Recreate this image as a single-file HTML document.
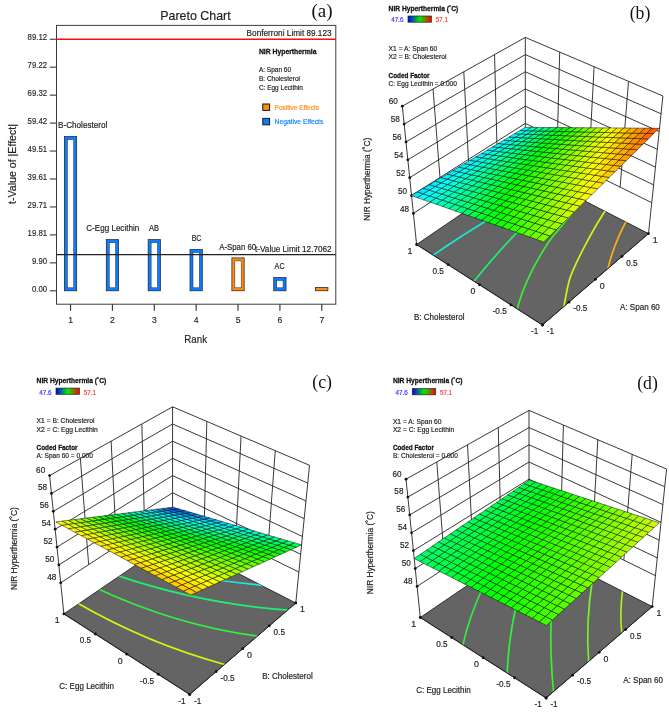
<!DOCTYPE html>
<html><head><meta charset="utf-8"><title>Figure</title>
<style>html,body{margin:0;padding:0;background:#fff;}body{width:669px;height:718px;overflow:hidden;font-family:"Liberation Sans",sans-serif;}svg{display:block;will-change:transform;}</style>
</head><body>
<svg width="669" height="718" viewBox="0 0 669 718" font-family="Liberation Sans, sans-serif">
<rect width="669" height="718" fill="#fff"/>
<rect x="56.5" y="25.4" width="279.3" height="278.8" fill="#fff" stroke="#3c3c3c" stroke-width="1.0"/>
<text x="195.50" y="19.70" font-size="13.5" text-anchor="middle" fill="#222" textLength="70.40" lengthAdjust="spacingAndGlyphs" stroke="#222" stroke-width="0.18" >Pareto Chart</text>
<text x="322.00" y="17.00" font-size="19" text-anchor="middle" fill="#111" font-family="Liberation Serif" >(a)</text>
<line x1="49.80" y1="290.80" x2="56.50" y2="290.80" stroke="#3c3c3c" stroke-width="1.1" />
<text x="47.10" y="291.50" font-size="8.6" text-anchor="end" fill="#2a2a2a" textLength="15.15" lengthAdjust="spacingAndGlyphs" stroke="#2a2a2a" stroke-width="0.18" >0.00</text>
<line x1="49.80" y1="262.85" x2="56.50" y2="262.85" stroke="#3c3c3c" stroke-width="1.1" />
<text x="47.10" y="263.55" font-size="8.6" text-anchor="end" fill="#2a2a2a" textLength="15.15" lengthAdjust="spacingAndGlyphs" stroke="#2a2a2a" stroke-width="0.18" >9.90</text>
<line x1="49.80" y1="234.90" x2="56.50" y2="234.90" stroke="#3c3c3c" stroke-width="1.1" />
<text x="47.10" y="235.60" font-size="8.6" text-anchor="end" fill="#2a2a2a" textLength="19.48" lengthAdjust="spacingAndGlyphs" stroke="#2a2a2a" stroke-width="0.18" >19.81</text>
<line x1="49.80" y1="206.95" x2="56.50" y2="206.95" stroke="#3c3c3c" stroke-width="1.1" />
<text x="47.10" y="207.65" font-size="8.6" text-anchor="end" fill="#2a2a2a" textLength="19.48" lengthAdjust="spacingAndGlyphs" stroke="#2a2a2a" stroke-width="0.18" >29.71</text>
<line x1="49.80" y1="179.00" x2="56.50" y2="179.00" stroke="#3c3c3c" stroke-width="1.1" />
<text x="47.10" y="179.70" font-size="8.6" text-anchor="end" fill="#2a2a2a" textLength="19.48" lengthAdjust="spacingAndGlyphs" stroke="#2a2a2a" stroke-width="0.18" >39.61</text>
<line x1="49.80" y1="151.05" x2="56.50" y2="151.05" stroke="#3c3c3c" stroke-width="1.1" />
<text x="47.10" y="151.75" font-size="8.6" text-anchor="end" fill="#2a2a2a" textLength="19.48" lengthAdjust="spacingAndGlyphs" stroke="#2a2a2a" stroke-width="0.18" >49.51</text>
<line x1="49.80" y1="123.10" x2="56.50" y2="123.10" stroke="#3c3c3c" stroke-width="1.1" />
<text x="47.10" y="123.80" font-size="8.6" text-anchor="end" fill="#2a2a2a" textLength="19.48" lengthAdjust="spacingAndGlyphs" stroke="#2a2a2a" stroke-width="0.18" >59.42</text>
<line x1="49.80" y1="95.15" x2="56.50" y2="95.15" stroke="#3c3c3c" stroke-width="1.1" />
<text x="47.10" y="95.85" font-size="8.6" text-anchor="end" fill="#2a2a2a" textLength="19.48" lengthAdjust="spacingAndGlyphs" stroke="#2a2a2a" stroke-width="0.18" >69.32</text>
<line x1="49.80" y1="67.20" x2="56.50" y2="67.20" stroke="#3c3c3c" stroke-width="1.1" />
<text x="47.10" y="67.90" font-size="8.6" text-anchor="end" fill="#2a2a2a" textLength="19.48" lengthAdjust="spacingAndGlyphs" stroke="#2a2a2a" stroke-width="0.18" >79.22</text>
<line x1="49.80" y1="39.25" x2="56.50" y2="39.25" stroke="#3c3c3c" stroke-width="1.1" />
<text x="47.10" y="39.95" font-size="8.6" text-anchor="end" fill="#2a2a2a" textLength="19.48" lengthAdjust="spacingAndGlyphs" stroke="#2a2a2a" stroke-width="0.18" >89.12</text>
<line x1="70.55" y1="304.20" x2="70.55" y2="310.80" stroke="#3c3c3c" stroke-width="1.2" />
<text x="70.55" y="322.70" font-size="8.6" text-anchor="middle" fill="#2a2a2a" stroke="#2a2a2a" stroke-width="0.18" >1</text>
<line x1="112.42" y1="304.20" x2="112.42" y2="310.80" stroke="#3c3c3c" stroke-width="1.2" />
<text x="112.42" y="322.70" font-size="8.6" text-anchor="middle" fill="#2a2a2a" stroke="#2a2a2a" stroke-width="0.18" >2</text>
<line x1="154.29" y1="304.20" x2="154.29" y2="310.80" stroke="#3c3c3c" stroke-width="1.2" />
<text x="154.29" y="322.70" font-size="8.6" text-anchor="middle" fill="#2a2a2a" stroke="#2a2a2a" stroke-width="0.18" >3</text>
<line x1="196.16" y1="304.20" x2="196.16" y2="310.80" stroke="#3c3c3c" stroke-width="1.2" />
<text x="196.16" y="322.70" font-size="8.6" text-anchor="middle" fill="#2a2a2a" stroke="#2a2a2a" stroke-width="0.18" >4</text>
<line x1="238.03" y1="304.20" x2="238.03" y2="310.80" stroke="#3c3c3c" stroke-width="1.2" />
<text x="238.03" y="322.70" font-size="8.6" text-anchor="middle" fill="#2a2a2a" stroke="#2a2a2a" stroke-width="0.18" >5</text>
<line x1="279.90" y1="304.20" x2="279.90" y2="310.80" stroke="#3c3c3c" stroke-width="1.2" />
<text x="279.90" y="322.70" font-size="8.6" text-anchor="middle" fill="#2a2a2a" stroke="#2a2a2a" stroke-width="0.18" >6</text>
<line x1="321.77" y1="304.20" x2="321.77" y2="310.80" stroke="#3c3c3c" stroke-width="1.2" />
<text x="321.77" y="322.70" font-size="8.6" text-anchor="middle" fill="#2a2a2a" stroke="#2a2a2a" stroke-width="0.18" >7</text>
<text x="195.70" y="343.30" font-size="11.4" text-anchor="middle" fill="#222" textLength="22.80" lengthAdjust="spacingAndGlyphs" stroke="#222" stroke-width="0.18" >Rank</text>
<text x="16.00" y="164.00" font-size="11.2" text-anchor="middle" fill="#222" textLength="80.00" lengthAdjust="spacingAndGlyphs" transform="rotate(-90 16.00 164.00)" stroke="#222" stroke-width="0.18" >t-Value of |Effect|</text>
<rect x="64.40" y="136.50" width="12.3" height="154.30" fill="#0a7cff" stroke="#1c1c24" stroke-width="0.7"/>
<rect x="67.40" y="139.50" width="6.30" height="148.30" fill="#fff" stroke="#1c1c24" stroke-width="0.45"/>
<rect x="106.27" y="239.60" width="12.3" height="51.20" fill="#0a7cff" stroke="#1c1c24" stroke-width="0.7"/>
<rect x="109.27" y="242.60" width="6.30" height="45.20" fill="#fff" stroke="#1c1c24" stroke-width="0.45"/>
<rect x="148.14" y="239.60" width="12.3" height="51.20" fill="#0a7cff" stroke="#1c1c24" stroke-width="0.7"/>
<rect x="151.14" y="242.60" width="6.30" height="45.20" fill="#fff" stroke="#1c1c24" stroke-width="0.45"/>
<rect x="190.01" y="249.50" width="12.3" height="41.30" fill="#0a7cff" stroke="#1c1c24" stroke-width="0.7"/>
<rect x="193.01" y="252.50" width="6.30" height="35.30" fill="#fff" stroke="#1c1c24" stroke-width="0.45"/>
<rect x="231.88" y="257.90" width="12.3" height="32.90" fill="#ff8a10" stroke="#1c1c24" stroke-width="0.7"/>
<rect x="234.88" y="260.90" width="6.30" height="26.90" fill="#fff" stroke="#1c1c24" stroke-width="0.45"/>
<rect x="273.75" y="277.50" width="12.3" height="13.30" fill="#0a7cff" stroke="#1c1c24" stroke-width="0.7"/>
<rect x="276.75" y="280.50" width="6.30" height="7.30" fill="#fff" stroke="#1c1c24" stroke-width="0.45"/>
<rect x="315.62" y="287.40" width="12.3" height="3.40" fill="#ff8a10" stroke="#1c1c24" stroke-width="0.7"/>
<line x1="56.50" y1="39.20" x2="335.80" y2="39.20" stroke="#ff1010" stroke-width="1.4" />
<line x1="56.50" y1="254.70" x2="335.80" y2="254.70" stroke="#222" stroke-width="1.2" />
<text x="331.60" y="36.30" font-size="9" text-anchor="end" fill="#222" textLength="85.00" lengthAdjust="spacingAndGlyphs" stroke="#222" stroke-width="0.18" >Bonferroni Limit 89.123</text>
<text x="331.60" y="251.50" font-size="9" text-anchor="end" fill="#222" textLength="76.60" lengthAdjust="spacingAndGlyphs" stroke="#222" stroke-width="0.18" >t-Value Limit 12.7062</text>
<text x="58.10" y="128.30" font-size="8.6" text-anchor="start" fill="#222" textLength="49.20" lengthAdjust="spacingAndGlyphs" stroke="#222" stroke-width="0.18" >B-Cholesterol</text>
<text x="86.30" y="231.40" font-size="8.6" text-anchor="start" fill="#222" textLength="52.90" lengthAdjust="spacingAndGlyphs" stroke="#222" stroke-width="0.18" >C-Egg Lecithin</text>
<text x="154.10" y="231.40" font-size="8.6" text-anchor="middle" fill="#222" textLength="10.00" lengthAdjust="spacingAndGlyphs" stroke="#222" stroke-width="0.18" >AB</text>
<text x="196.50" y="240.70" font-size="8.6" text-anchor="middle" fill="#222" textLength="9.70" lengthAdjust="spacingAndGlyphs" stroke="#222" stroke-width="0.18" >BC</text>
<text x="219.20" y="249.50" font-size="8.6" text-anchor="start" fill="#222" textLength="37.00" lengthAdjust="spacingAndGlyphs" stroke="#222" stroke-width="0.18" >A-Span 60</text>
<text x="279.60" y="268.70" font-size="8.6" text-anchor="middle" fill="#222" textLength="10.00" lengthAdjust="spacingAndGlyphs" stroke="#222" stroke-width="0.18" >AC</text>
<text x="258.90" y="53.80" font-size="7.5" text-anchor="start" fill="#111" font-weight="bold" textLength="57.60" lengthAdjust="spacingAndGlyphs" stroke="#111" stroke-width="0.28" >NIR Hyperthermia</text>
<text x="258.90" y="72.20" font-size="7.2" text-anchor="start" fill="#202020" textLength="32.20" lengthAdjust="spacingAndGlyphs" stroke="#202020" stroke-width="0.18" >A: Span 60</text>
<text x="258.90" y="81.10" font-size="7.2" text-anchor="start" fill="#202020" textLength="41.10" lengthAdjust="spacingAndGlyphs" stroke="#202020" stroke-width="0.18" >B: Cholesterol</text>
<text x="258.90" y="89.80" font-size="7.2" text-anchor="start" fill="#202020" textLength="44.00" lengthAdjust="spacingAndGlyphs" stroke="#202020" stroke-width="0.18" >C: Egg Lecithin</text>
<rect x="262.8" y="104" width="6.8" height="6.4" fill="#ff8a10" stroke="#151515" stroke-width="1"/>
<rect x="262.8" y="118.4" width="6.8" height="6.4" fill="#0a7cff" stroke="#151515" stroke-width="1"/>
<text x="274.60" y="109.80" font-size="7.4" text-anchor="start" fill="#ff8a10" textLength="44.50" lengthAdjust="spacingAndGlyphs" stroke="#ff8a10" stroke-width="0.18" >Positive Effects</text>
<text x="274.60" y="124.20" font-size="7.4" text-anchor="start" fill="#0a84ff" textLength="48.70" lengthAdjust="spacingAndGlyphs" stroke="#0a84ff" stroke-width="0.18" >Negative Effects</text>
<g>
<polygon points="416.60,244.50 542.40,325.00 648.50,233.60 525.30,170.50" fill="#646464" stroke="#222" stroke-width="0.9" stroke-linejoin="round"/>
<clipPath id="clipb"><polygon points="416.60,244.50 542.40,325.00 648.50,233.60 525.30,170.50"/></clipPath>
<g clip-path="url(#clipb)" fill="none" stroke-width="1.7" stroke-linecap="butt">
<path d="M490.00,218.60 Q457.10,238.60 433.00,255.40" stroke="#14ecc8"/>
<path d="M522.00,227.20 Q491.85,258.55 473.50,282.10" stroke="#1cf070"/>
<path d="M580.00,204.50 C578.23,206.50 572.97,212.33 569.40,216.50 C565.83,220.67 561.93,225.42 558.60,229.50 C555.27,233.58 552.47,236.65 549.40,241.00 C546.33,245.35 543.00,250.87 540.20,255.60 C537.40,260.33 535.15,264.30 532.60,269.40 C530.05,274.50 526.95,281.35 524.90,286.20 C522.85,291.05 521.63,294.45 520.30,298.50 C518.97,302.55 517.47,308.50 516.90,310.50" stroke="#3cee30"/>
<path d="M606.20,209.20 C604.42,212.08 599.03,220.43 595.50,226.50 C591.97,232.57 588.08,239.73 585.00,245.60 C581.92,251.47 579.60,255.95 577.00,261.70 C574.40,267.45 571.57,272.68 569.40,280.10 C567.23,287.52 564.97,301.30 564.00,306.20 C563.03,311.10 563.67,308.95 563.60,309.50" stroke="#d2f514"/>
<path d="M626.60,220.60 Q613.85,243.75 607.70,269.50" stroke="#ffae14"/>
</g>
<line x1="402.30" y1="106.20" x2="416.60" y2="244.50" stroke="#222" stroke-width="0.9" />
<line x1="433.05" y1="89.00" x2="441.36" y2="195.20" stroke="#222" stroke-width="0.9" />
<line x1="559.70" y1="52.05" x2="556.91" y2="156.10" stroke="#222" stroke-width="0.9" />
<line x1="463.80" y1="71.80" x2="469.34" y2="176.99" stroke="#222" stroke-width="0.9" />
<line x1="594.10" y1="66.70" x2="588.52" y2="171.62" stroke="#222" stroke-width="0.9" />
<line x1="494.55" y1="54.60" x2="497.32" y2="158.79" stroke="#222" stroke-width="0.9" />
<line x1="628.50" y1="81.35" x2="620.13" y2="187.15" stroke="#222" stroke-width="0.9" />
<line x1="525.30" y1="37.40" x2="525.30" y2="170.50" stroke="#222" stroke-width="0.9" />
<line x1="662.90" y1="96.00" x2="648.50" y2="233.60" stroke="#222" stroke-width="0.9" />
<line x1="402.30" y1="106.20" x2="525.30" y2="37.40" stroke="#222" stroke-width="0.9" />
<line x1="525.30" y1="37.40" x2="662.90" y2="96.00" stroke="#222" stroke-width="0.9" />
<circle cx="402.30" cy="106.20" r="1.4" fill="#111"/>
<text x="397.90" y="104.30" font-size="8.8" text-anchor="end" fill="#222" textLength="9.10" lengthAdjust="spacingAndGlyphs" stroke="#222" stroke-width="0.18" >60</text>
<line x1="404.15" y1="124.07" x2="525.30" y2="54.60" stroke="#222" stroke-width="0.9" />
<line x1="525.30" y1="54.60" x2="661.04" y2="113.78" stroke="#222" stroke-width="0.9" />
<circle cx="404.15" cy="124.07" r="1.4" fill="#111"/>
<text x="399.75" y="122.17" font-size="8.8" text-anchor="end" fill="#222" textLength="9.10" lengthAdjust="spacingAndGlyphs" stroke="#222" stroke-width="0.18" >58</text>
<line x1="406.00" y1="141.94" x2="525.30" y2="71.79" stroke="#222" stroke-width="0.9" />
<line x1="525.30" y1="71.79" x2="659.18" y2="131.56" stroke="#222" stroke-width="0.9" />
<circle cx="406.00" cy="141.94" r="1.4" fill="#111"/>
<text x="401.60" y="140.04" font-size="8.8" text-anchor="end" fill="#222" textLength="9.10" lengthAdjust="spacingAndGlyphs" stroke="#222" stroke-width="0.18" >56</text>
<line x1="407.84" y1="159.81" x2="525.30" y2="88.99" stroke="#222" stroke-width="0.9" />
<line x1="525.30" y1="88.99" x2="657.32" y2="149.33" stroke="#222" stroke-width="0.9" />
<circle cx="407.84" cy="159.81" r="1.4" fill="#111"/>
<text x="403.44" y="157.91" font-size="8.8" text-anchor="end" fill="#222" textLength="9.10" lengthAdjust="spacingAndGlyphs" stroke="#222" stroke-width="0.18" >54</text>
<line x1="409.69" y1="177.67" x2="525.30" y2="106.19" stroke="#222" stroke-width="0.9" />
<line x1="525.30" y1="106.19" x2="655.46" y2="167.11" stroke="#222" stroke-width="0.9" />
<circle cx="409.69" cy="177.67" r="1.4" fill="#111"/>
<text x="405.29" y="175.77" font-size="8.8" text-anchor="end" fill="#222" textLength="9.10" lengthAdjust="spacingAndGlyphs" stroke="#222" stroke-width="0.18" >52</text>
<line x1="411.54" y1="195.54" x2="525.30" y2="123.38" stroke="#222" stroke-width="0.9" />
<line x1="525.30" y1="123.38" x2="653.60" y2="184.89" stroke="#222" stroke-width="0.9" />
<circle cx="411.54" cy="195.54" r="1.4" fill="#111"/>
<text x="407.14" y="193.64" font-size="8.8" text-anchor="end" fill="#222" textLength="9.10" lengthAdjust="spacingAndGlyphs" stroke="#222" stroke-width="0.18" >50</text>
<line x1="413.39" y1="213.41" x2="525.30" y2="140.58" stroke="#222" stroke-width="0.9" />
<line x1="525.30" y1="140.58" x2="651.74" y2="202.67" stroke="#222" stroke-width="0.9" />
<circle cx="413.39" cy="213.41" r="1.4" fill="#111"/>
<text x="408.99" y="211.51" font-size="8.8" text-anchor="end" fill="#222" textLength="9.10" lengthAdjust="spacingAndGlyphs" stroke="#222" stroke-width="0.18" >48</text>
<line x1="416.60" y1="244.50" x2="542.40" y2="325.00" stroke="#222" stroke-width="0.9" />
<line x1="542.40" y1="325.00" x2="648.50" y2="233.60" stroke="#222" stroke-width="0.9" />
<circle cx="416.60" cy="244.50" r="1.4" fill="#111"/>
<text x="412.40" y="253.90" font-size="8.8" text-anchor="end" fill="#222" stroke="#222" stroke-width="0.18" >1</text>
<circle cx="648.50" cy="233.60" r="1.4" fill="#111"/>
<text x="652.80" y="242.80" font-size="8.8" text-anchor="start" fill="#222" stroke="#222" stroke-width="0.18" >1</text>
<circle cx="448.05" cy="264.62" r="1.4" fill="#111"/>
<text x="443.85" y="274.02" font-size="8.8" text-anchor="end" fill="#222" textLength="11.38" lengthAdjust="spacingAndGlyphs" stroke="#222" stroke-width="0.18" >0.5</text>
<circle cx="621.98" cy="256.45" r="1.4" fill="#111"/>
<text x="626.27" y="265.65" font-size="8.8" text-anchor="start" fill="#222" textLength="11.38" lengthAdjust="spacingAndGlyphs" stroke="#222" stroke-width="0.18" >0.5</text>
<circle cx="479.50" cy="284.75" r="1.4" fill="#111"/>
<text x="475.30" y="294.15" font-size="8.8" text-anchor="end" fill="#222" stroke="#222" stroke-width="0.18" >0</text>
<circle cx="595.45" cy="279.30" r="1.4" fill="#111"/>
<text x="599.75" y="288.50" font-size="8.8" text-anchor="start" fill="#222" stroke="#222" stroke-width="0.18" >0</text>
<circle cx="510.95" cy="304.88" r="1.4" fill="#111"/>
<text x="506.75" y="314.27" font-size="8.8" text-anchor="end" fill="#222" textLength="14.10" lengthAdjust="spacingAndGlyphs" stroke="#222" stroke-width="0.18" >-0.5</text>
<circle cx="568.92" cy="302.15" r="1.4" fill="#111"/>
<text x="573.22" y="311.35" font-size="8.8" text-anchor="start" fill="#222" textLength="14.10" lengthAdjust="spacingAndGlyphs" stroke="#222" stroke-width="0.18" >-0.5</text>
<circle cx="542.40" cy="325.00" r="1.4" fill="#111"/>
<text x="538.20" y="334.40" font-size="8.8" text-anchor="end" fill="#222" textLength="7.28" lengthAdjust="spacingAndGlyphs" stroke="#222" stroke-width="0.18" >-1</text>
<circle cx="542.40" cy="325.00" r="1.4" fill="#111"/>
<text x="546.70" y="334.20" font-size="8.8" text-anchor="start" fill="#222" textLength="7.28" lengthAdjust="spacingAndGlyphs" stroke="#222" stroke-width="0.18" >-1</text>
<g stroke="#0a0a0a" stroke-width="0.5" stroke-linejoin="round">
<polygon points="411.20,195.50 417.28,191.86 423.48,193.92 417.39,197.67" fill="#00e7ff"/>
<polygon points="417.39,197.67 423.48,193.92 429.71,195.99 423.62,199.85" fill="#00fdff"/>
<polygon points="423.62,199.85 429.71,195.99 435.99,198.08 429.89,202.06" fill="#00ffea"/>
<polygon points="429.89,202.06 435.99,198.08 442.32,200.17 436.21,204.27" fill="#00ffd3"/>
<polygon points="436.21,204.27 442.32,200.17 448.69,202.29 442.58,206.50" fill="#00ffbd"/>
<polygon points="442.58,206.50 448.69,202.29 455.11,204.42 448.99,208.75" fill="#00ffa6"/>
<polygon points="448.99,208.75 455.11,204.42 461.57,206.56 455.45,211.02" fill="#00ff8f"/>
<polygon points="455.45,211.02 461.57,206.56 468.07,208.72 461.95,213.30" fill="#00ff78"/>
<polygon points="461.95,213.30 468.07,208.72 474.63,210.90 468.50,215.59" fill="#00ff61"/>
<polygon points="468.50,215.59 474.63,210.90 481.23,213.09 475.10,217.91" fill="#00ff4a"/>
<polygon points="475.10,217.91 481.23,213.09 487.88,215.30 481.74,220.24" fill="#00ff33"/>
<polygon points="481.74,220.24 487.88,215.30 494.58,217.52 488.43,222.58" fill="#00ff1c"/>
<polygon points="488.43,222.58 494.58,217.52 501.33,219.76 495.18,224.95" fill="#00ff05"/>
<polygon points="495.18,224.95 501.33,219.76 508.12,222.02 501.97,227.33" fill="#0eff00"/>
<polygon points="501.97,227.33 508.12,222.02 514.97,224.29 508.81,229.73" fill="#21ff00"/>
<polygon points="508.81,229.73 514.97,224.29 521.87,226.58 515.71,232.15" fill="#34ff00"/>
<polygon points="515.71,232.15 521.87,226.58 528.82,228.89 522.65,234.58" fill="#47ff00"/>
<polygon points="522.65,234.58 528.82,228.89 535.82,231.21 529.65,237.04" fill="#5aff00"/>
<polygon points="529.65,237.04 535.82,231.21 542.87,233.55 536.70,239.51" fill="#6dff00"/>
<polygon points="536.70,239.51 542.87,233.55 549.98,235.91 543.80,242.00" fill="#7fff00"/>
<polygon points="417.28,191.86 423.32,188.25 429.52,190.20 423.48,193.92" fill="#00e8ff"/>
<polygon points="423.48,193.92 429.52,190.20 435.77,192.15 429.71,195.99" fill="#00ffff"/>
<polygon points="429.71,195.99 435.77,192.15 442.05,194.12 435.99,198.08" fill="#00ffe7"/>
<polygon points="435.99,198.08 442.05,194.12 448.38,196.11 442.32,200.17" fill="#00ffcf"/>
<polygon points="442.32,200.17 448.38,196.11 454.76,198.10 448.69,202.29" fill="#00ffb7"/>
<polygon points="448.69,202.29 454.76,198.10 461.18,200.12 455.11,204.42" fill="#00ff9f"/>
<polygon points="455.11,204.42 461.18,200.12 467.65,202.14 461.57,206.56" fill="#00ff87"/>
<polygon points="461.57,206.56 467.65,202.14 474.16,204.18 468.07,208.72" fill="#00ff6f"/>
<polygon points="468.07,208.72 474.16,204.18 480.72,206.24 474.63,210.90" fill="#00ff57"/>
<polygon points="474.63,210.90 480.72,206.24 487.32,208.31 481.23,213.09" fill="#00ff3f"/>
<polygon points="481.23,213.09 487.32,208.31 493.98,210.40 487.88,215.30" fill="#00ff27"/>
<polygon points="487.88,215.30 493.98,210.40 500.68,212.50 494.58,217.52" fill="#00ff0f"/>
<polygon points="494.58,217.52 500.68,212.50 507.43,214.61 501.33,219.76" fill="#07ff00"/>
<polygon points="501.33,219.76 507.43,214.61 514.23,216.74 508.12,222.02" fill="#1bff00"/>
<polygon points="508.12,222.02 514.23,216.74 521.08,218.89 514.97,224.29" fill="#2eff00"/>
<polygon points="514.97,224.29 521.08,218.89 527.99,221.05 521.87,226.58" fill="#42ff00"/>
<polygon points="521.87,226.58 527.99,221.05 534.94,223.23 528.82,228.89" fill="#56ff00"/>
<polygon points="528.82,228.89 534.94,223.23 541.94,225.43 535.82,231.21" fill="#69ff00"/>
<polygon points="535.82,231.21 541.94,225.43 549.00,227.64 542.87,233.55" fill="#7dff00"/>
<polygon points="542.87,233.55 549.00,227.64 556.11,229.87 549.98,235.91" fill="#91ff00"/>
<polygon points="423.32,188.25 429.32,184.67 435.53,186.50 429.52,190.20" fill="#00eaff"/>
<polygon points="429.52,190.20 435.53,186.50 441.78,188.34 435.77,192.15" fill="#00fffc"/>
<polygon points="435.77,192.15 441.78,188.34 448.07,190.20 442.05,194.12" fill="#00ffe3"/>
<polygon points="442.05,194.12 448.07,190.20 454.40,192.07 448.38,196.11" fill="#00ffca"/>
<polygon points="448.38,196.11 454.40,192.07 460.78,193.95 454.76,198.10" fill="#00ffb1"/>
<polygon points="454.76,198.10 460.78,193.95 467.21,195.84 461.18,200.12" fill="#00ff98"/>
<polygon points="461.18,200.12 467.21,195.84 473.68,197.75 467.65,202.14" fill="#00ff7f"/>
<polygon points="467.65,202.14 473.68,197.75 480.20,199.68 474.16,204.18" fill="#00ff66"/>
<polygon points="474.16,204.18 480.20,199.68 486.76,201.61 480.72,206.24" fill="#00ff4d"/>
<polygon points="480.72,206.24 486.76,201.61 493.37,203.56 487.32,208.31" fill="#00ff35"/>
<polygon points="487.32,208.31 493.37,203.56 500.03,205.53 493.98,210.40" fill="#00ff1c"/>
<polygon points="493.98,210.40 500.03,205.53 506.74,207.51 500.68,212.50" fill="#00ff03"/>
<polygon points="500.68,212.50 506.74,207.51 513.49,209.50 507.43,214.61" fill="#12ff00"/>
<polygon points="507.43,214.61 513.49,209.50 520.30,211.51 514.23,216.74" fill="#27ff00"/>
<polygon points="514.23,216.74 520.30,211.51 527.15,213.53 521.08,218.89" fill="#3cff00"/>
<polygon points="521.08,218.89 527.15,213.53 534.06,215.57 527.99,221.05" fill="#50ff00"/>
<polygon points="527.99,221.05 534.06,215.57 541.01,217.62 534.94,223.23" fill="#65ff00"/>
<polygon points="534.94,223.23 541.01,217.62 548.02,219.69 541.94,225.43" fill="#79ff00"/>
<polygon points="541.94,225.43 548.02,219.69 555.08,221.77 549.00,227.64" fill="#8eff00"/>
<polygon points="549.00,227.64 555.08,221.77 562.19,223.87 556.11,229.87" fill="#a2ff00"/>
<polygon points="429.32,184.67 435.28,181.11 441.49,182.83 435.53,186.50" fill="#00ebff"/>
<polygon points="435.53,186.50 441.49,182.83 447.74,184.56 441.78,188.34" fill="#00fffa"/>
<polygon points="441.78,188.34 447.74,184.56 454.04,186.30 448.07,190.20" fill="#00ffe0"/>
<polygon points="448.07,190.20 454.04,186.30 460.38,188.06 454.40,192.07" fill="#00ffc6"/>
<polygon points="454.40,192.07 460.38,188.06 466.77,189.82 460.78,193.95" fill="#00ffac"/>
<polygon points="460.78,193.95 466.77,189.82 473.20,191.60 467.21,195.84" fill="#00ff92"/>
<polygon points="467.21,195.84 473.20,191.60 479.67,193.40 473.68,197.75" fill="#00ff78"/>
<polygon points="473.68,197.75 479.67,193.40 486.19,195.20 480.20,199.68" fill="#00ff5e"/>
<polygon points="480.20,199.68 486.19,195.20 492.76,197.02 486.76,201.61" fill="#00ff44"/>
<polygon points="486.76,201.61 492.76,197.02 499.38,198.85 493.37,203.56" fill="#00ff2a"/>
<polygon points="493.37,203.56 499.38,198.85 506.04,200.70 500.03,205.53" fill="#00ff10"/>
<polygon points="500.03,205.53 506.04,200.70 512.75,202.55 506.74,207.51" fill="#09ff00"/>
<polygon points="506.74,207.51 512.75,202.55 519.51,204.42 513.49,209.50" fill="#1eff00"/>
<polygon points="513.49,209.50 519.51,204.42 526.32,206.31 520.30,211.51" fill="#33ff00"/>
<polygon points="520.30,211.51 526.32,206.31 533.18,208.21 527.15,213.53" fill="#49ff00"/>
<polygon points="527.15,213.53 533.18,208.21 540.08,210.12 534.06,215.57" fill="#5eff00"/>
<polygon points="534.06,215.57 540.08,210.12 547.04,212.05 541.01,217.62" fill="#74ff00"/>
<polygon points="541.01,217.62 547.04,212.05 554.05,213.99 548.02,219.69" fill="#89ff00"/>
<polygon points="548.02,219.69 554.05,213.99 561.11,215.94 555.08,221.77" fill="#9eff00"/>
<polygon points="555.08,221.77 561.11,215.94 568.23,217.91 562.19,223.87" fill="#b4ff00"/>
<polygon points="435.28,181.11 441.20,177.57 447.41,179.18 441.49,182.83" fill="#00edff"/>
<polygon points="441.49,182.83 447.41,179.18 453.67,180.80 447.74,184.56" fill="#00fff7"/>
<polygon points="447.74,184.56 453.67,180.80 459.97,182.43 454.04,186.30" fill="#00ffdc"/>
<polygon points="454.04,186.30 459.97,182.43 466.32,184.07 460.38,188.06" fill="#00ffc1"/>
<polygon points="460.38,188.06 466.32,184.07 472.71,185.73 466.77,189.82" fill="#00ffa6"/>
<polygon points="466.77,189.82 472.71,185.73 479.14,187.39 473.20,191.60" fill="#00ff8b"/>
<polygon points="473.20,191.60 479.14,187.39 485.62,189.07 479.67,193.40" fill="#00ff70"/>
<polygon points="479.67,193.40 485.62,189.07 492.15,190.76 486.19,195.20" fill="#00ff55"/>
<polygon points="486.19,195.20 492.15,190.76 498.72,192.46 492.76,197.02" fill="#00ff3a"/>
<polygon points="492.76,197.02 498.72,192.46 505.34,194.17 499.38,198.85" fill="#00ff1f"/>
<polygon points="499.38,198.85 505.34,194.17 512.01,195.90 506.04,200.70" fill="#00ff04"/>
<polygon points="506.04,200.70 512.01,195.90 518.72,197.64 512.75,202.55" fill="#13ff00"/>
<polygon points="512.75,202.55 518.72,197.64 525.48,199.39 519.51,204.42" fill="#29ff00"/>
<polygon points="519.51,204.42 525.48,199.39 532.30,201.15 526.32,206.31" fill="#40ff00"/>
<polygon points="526.32,206.31 532.30,201.15 539.16,202.92 533.18,208.21" fill="#56ff00"/>
<polygon points="533.18,208.21 539.16,202.92 546.07,204.71 540.08,210.12" fill="#6cff00"/>
<polygon points="540.08,210.12 546.07,204.71 553.03,206.51 547.04,212.05" fill="#82ff00"/>
<polygon points="547.04,212.05 553.03,206.51 560.04,208.33 554.05,213.99" fill="#99ff00"/>
<polygon points="554.05,213.99 560.04,208.33 567.11,210.16 561.11,215.94" fill="#afff00"/>
<polygon points="561.11,215.94 567.11,210.16 574.22,212.00 568.23,217.91" fill="#c5ff00"/>
<polygon points="441.20,177.57 447.07,174.06 453.29,175.56 447.41,179.18" fill="#00eeff"/>
<polygon points="447.41,179.18 453.29,175.56 459.56,177.07 453.67,180.80" fill="#00fff5"/>
<polygon points="453.67,180.80 459.56,177.07 465.86,178.59 459.97,182.43" fill="#00ffd9"/>
<polygon points="459.97,182.43 465.86,178.59 472.21,180.12 466.32,184.07" fill="#00ffbd"/>
<polygon points="466.32,184.07 472.21,180.12 478.61,181.66 472.71,185.73" fill="#00ffa0"/>
<polygon points="472.71,185.73 478.61,181.66 485.05,183.21 479.14,187.39" fill="#00ff84"/>
<polygon points="479.14,187.39 485.05,183.21 491.53,184.77 485.62,189.07" fill="#00ff68"/>
<polygon points="485.62,189.07 491.53,184.77 498.06,186.35 492.15,190.76" fill="#00ff4c"/>
<polygon points="492.15,190.76 498.06,186.35 504.64,187.93 498.72,192.46" fill="#00ff30"/>
<polygon points="498.72,192.46 504.64,187.93 511.26,189.53 505.34,194.17" fill="#00ff14"/>
<polygon points="505.34,194.17 511.26,189.53 517.93,191.13 512.01,195.90" fill="#07ff00"/>
<polygon points="512.01,195.90 517.93,191.13 524.65,192.75 518.72,197.64" fill="#1eff00"/>
<polygon points="518.72,197.64 524.65,192.75 531.41,194.38 525.48,199.39" fill="#35ff00"/>
<polygon points="525.48,199.39 531.41,194.38 538.23,196.03 532.30,201.15" fill="#4cff00"/>
<polygon points="532.30,201.15 538.23,196.03 545.09,197.68 539.16,202.92" fill="#63ff00"/>
<polygon points="539.16,202.92 545.09,197.68 552.01,199.35 546.07,204.71" fill="#7aff00"/>
<polygon points="546.07,204.71 552.01,199.35 558.97,201.02 553.03,206.51" fill="#91ff00"/>
<polygon points="553.03,206.51 558.97,201.02 565.99,202.71 560.04,208.33" fill="#a9ff00"/>
<polygon points="560.04,208.33 565.99,202.71 573.05,204.42 567.11,210.16" fill="#c0ff00"/>
<polygon points="567.11,210.16 573.05,204.42 580.17,206.13 574.22,212.00" fill="#d7ff00"/>
<polygon points="447.07,174.06 452.91,170.57 459.13,171.96 453.29,175.56" fill="#00efff"/>
<polygon points="453.29,175.56 459.13,171.96 465.40,173.36 459.56,177.07" fill="#00fff2"/>
<polygon points="459.56,177.07 465.40,173.36 471.71,174.77 465.86,178.59" fill="#00ffd5"/>
<polygon points="465.86,178.59 471.71,174.77 478.07,176.19 472.21,180.12" fill="#00ffb8"/>
<polygon points="472.21,180.12 478.07,176.19 484.47,177.62 478.61,181.66" fill="#00ff9b"/>
<polygon points="478.61,181.66 484.47,177.62 490.91,179.06 485.05,183.21" fill="#00ff7e"/>
<polygon points="485.05,183.21 490.91,179.06 497.40,180.50 491.53,184.77" fill="#00ff61"/>
<polygon points="491.53,184.77 497.40,180.50 503.93,181.96 498.06,186.35" fill="#00ff43"/>
<polygon points="498.06,186.35 503.93,181.96 510.51,183.43 504.64,187.93" fill="#00ff26"/>
<polygon points="504.64,187.93 510.51,183.43 517.14,184.91 511.26,189.53" fill="#00ff09"/>
<polygon points="511.26,189.53 517.14,184.91 523.81,186.40 517.93,191.13" fill="#10ff00"/>
<polygon points="517.93,191.13 523.81,186.40 530.53,187.90 524.65,192.75" fill="#28ff00"/>
<polygon points="524.65,192.75 530.53,187.90 537.30,189.42 531.41,194.38" fill="#40ff00"/>
<polygon points="531.41,194.38 537.30,189.42 544.12,190.94 538.23,196.03" fill="#58ff00"/>
<polygon points="538.23,196.03 544.12,190.94 550.99,192.47 545.09,197.68" fill="#70ff00"/>
<polygon points="545.09,197.68 550.99,192.47 557.90,194.02 552.01,199.35" fill="#88ff00"/>
<polygon points="552.01,199.35 557.90,194.02 564.87,195.57 558.97,201.02" fill="#a0ff00"/>
<polygon points="558.97,201.02 564.87,195.57 571.89,197.14 565.99,202.71" fill="#b8ff00"/>
<polygon points="565.99,202.71 571.89,197.14 578.96,198.72 573.05,204.42" fill="#d0ff00"/>
<polygon points="573.05,204.42 578.96,198.72 586.08,200.31 580.17,206.13" fill="#e8ff00"/>
<polygon points="452.91,170.57 458.70,167.11 464.93,168.39 459.13,171.96" fill="#00f1ff"/>
<polygon points="459.13,171.96 464.93,168.39 471.21,169.68 465.40,173.36" fill="#00fff0"/>
<polygon points="465.40,173.36 471.21,169.68 477.52,170.98 471.71,174.77" fill="#00ffd1"/>
<polygon points="471.71,174.77 477.52,170.98 483.88,172.29 478.07,176.19" fill="#00ffb3"/>
<polygon points="478.07,176.19 483.88,172.29 490.28,173.60 484.47,177.62" fill="#00ff95"/>
<polygon points="484.47,177.62 490.28,173.60 496.73,174.93 490.91,179.06" fill="#00ff77"/>
<polygon points="490.91,179.06 496.73,174.93 503.22,176.27 497.40,180.50" fill="#00ff59"/>
<polygon points="497.40,180.50 503.22,176.27 509.76,177.61 503.93,181.96" fill="#00ff3b"/>
<polygon points="503.93,181.96 509.76,177.61 516.35,178.97 510.51,183.43" fill="#00ff1d"/>
<polygon points="510.51,183.43 516.35,178.97 522.98,180.33 517.14,184.91" fill="#01ff00"/>
<polygon points="517.14,184.91 522.98,180.33 529.65,181.71 523.81,186.40" fill="#1aff00"/>
<polygon points="523.81,186.40 529.65,181.71 536.38,183.09 530.53,187.90" fill="#33ff00"/>
<polygon points="530.53,187.90 536.38,183.09 543.15,184.48 537.30,189.42" fill="#4cff00"/>
<polygon points="537.30,189.42 543.15,184.48 549.97,185.89 544.12,190.94" fill="#65ff00"/>
<polygon points="544.12,190.94 549.97,185.89 556.84,187.30 550.99,192.47" fill="#7eff00"/>
<polygon points="550.99,192.47 556.84,187.30 563.76,188.73 557.90,194.02" fill="#96ff00"/>
<polygon points="557.90,194.02 563.76,188.73 570.73,190.16 564.87,195.57" fill="#afff00"/>
<polygon points="564.87,195.57 570.73,190.16 577.75,191.61 571.89,197.14" fill="#c8ff00"/>
<polygon points="571.89,197.14 577.75,191.61 584.82,193.06 578.96,198.72" fill="#e1ff00"/>
<polygon points="578.96,198.72 584.82,193.06 591.94,194.53 586.08,200.31" fill="#faff00"/>
<polygon points="458.70,167.11 464.46,163.66 470.70,164.84 464.93,168.39" fill="#00f2ff"/>
<polygon points="464.93,168.39 470.70,164.84 476.97,166.02 471.21,169.68" fill="#00ffed"/>
<polygon points="471.21,169.68 476.97,166.02 483.29,167.21 477.52,170.98" fill="#00ffce"/>
<polygon points="477.52,170.98 483.29,167.21 489.65,168.41 483.88,172.29" fill="#00ffaf"/>
<polygon points="483.88,172.29 489.65,168.41 496.06,169.62 490.28,173.60" fill="#00ff90"/>
<polygon points="490.28,173.60 496.06,169.62 502.51,170.84 496.73,174.93" fill="#00ff70"/>
<polygon points="496.73,174.93 502.51,170.84 509.01,172.06 503.22,176.27" fill="#00ff51"/>
<polygon points="503.22,176.27 509.01,172.06 515.55,173.29 509.76,177.61" fill="#00ff32"/>
<polygon points="509.76,177.61 515.55,173.29 522.14,174.53 516.35,178.97" fill="#00ff13"/>
<polygon points="516.35,178.97 522.14,174.53 528.77,175.78 522.98,180.33" fill="#0aff00"/>
<polygon points="522.98,180.33 528.77,175.78 535.45,177.04 529.65,181.71" fill="#24ff00"/>
<polygon points="529.65,181.71 535.45,177.04 542.18,178.31 536.38,183.09" fill="#3eff00"/>
<polygon points="536.38,183.09 542.18,178.31 548.95,179.59 543.15,184.48" fill="#57ff00"/>
<polygon points="543.15,184.48 548.95,179.59 555.78,180.87 549.97,185.89" fill="#71ff00"/>
<polygon points="549.97,185.89 555.78,180.87 562.65,182.17 556.84,187.30" fill="#8bff00"/>
<polygon points="556.84,187.30 562.65,182.17 569.57,183.47 563.76,188.73" fill="#a4ff00"/>
<polygon points="563.76,188.73 569.57,183.47 576.54,184.79 570.73,190.16" fill="#beff00"/>
<polygon points="570.73,190.16 576.54,184.79 583.57,186.11 577.75,191.61" fill="#d8ff00"/>
<polygon points="577.75,191.61 583.57,186.11 590.64,187.44 584.82,193.06" fill="#f1ff00"/>
<polygon points="584.82,193.06 590.64,187.44 597.76,188.79 591.94,194.53" fill="#fff500"/>
<polygon points="464.46,163.66 470.18,160.25 476.42,161.32 470.70,164.84" fill="#00f4ff"/>
<polygon points="470.70,164.84 476.42,161.32 482.70,162.39 476.97,166.02" fill="#00ffeb"/>
<polygon points="476.97,166.02 482.70,162.39 489.02,163.47 483.29,167.21" fill="#00ffca"/>
<polygon points="483.29,167.21 489.02,163.47 495.39,164.56 489.65,168.41" fill="#00ffaa"/>
<polygon points="489.65,168.41 495.39,164.56 501.80,165.66 496.06,169.62" fill="#00ff8a"/>
<polygon points="496.06,169.62 501.80,165.66 508.25,166.77 502.51,170.84" fill="#00ff6a"/>
<polygon points="502.51,170.84 508.25,166.77 514.75,167.88 509.01,172.06" fill="#00ff49"/>
<polygon points="509.01,172.06 514.75,167.88 521.30,169.00 515.55,173.29" fill="#00ff29"/>
<polygon points="515.55,173.29 521.30,169.00 527.89,170.13 522.14,174.53" fill="#00ff09"/>
<polygon points="522.14,174.53 527.89,170.13 534.53,171.27 528.77,175.78" fill="#13ff00"/>
<polygon points="528.77,175.78 534.53,171.27 541.21,172.41 535.45,177.04" fill="#2eff00"/>
<polygon points="535.45,177.04 541.21,172.41 547.94,173.57 542.18,178.31" fill="#48ff00"/>
<polygon points="542.18,178.31 547.94,173.57 554.72,174.73 548.95,179.59" fill="#63ff00"/>
<polygon points="548.95,179.59 554.72,174.73 561.54,175.90 555.78,180.87" fill="#7dff00"/>
<polygon points="555.78,180.87 561.54,175.90 568.42,177.07 562.65,182.17" fill="#98ff00"/>
<polygon points="562.65,182.17 568.42,177.07 575.34,178.26 569.57,183.47" fill="#b2ff00"/>
<polygon points="569.57,183.47 575.34,178.26 582.32,179.45 576.54,184.79" fill="#cdff00"/>
<polygon points="576.54,184.79 582.32,179.45 589.34,180.66 583.57,186.11" fill="#e8ff00"/>
<polygon points="583.57,186.11 589.34,180.66 596.41,181.87 590.64,187.44" fill="#fffd00"/>
<polygon points="590.64,187.44 596.41,181.87 603.54,183.09 597.76,188.79" fill="#ffe700"/>
<polygon points="470.18,160.25 475.86,156.85 482.10,157.82 476.42,161.32" fill="#00f5ff"/>
<polygon points="476.42,161.32 482.10,157.82 488.39,158.78 482.70,162.39" fill="#00ffe8"/>
<polygon points="482.70,162.39 488.39,158.78 494.71,159.76 489.02,163.47" fill="#00ffc7"/>
<polygon points="489.02,163.47 494.71,159.76 501.08,160.74 495.39,164.56" fill="#00ffa6"/>
<polygon points="495.39,164.56 501.08,160.74 507.50,161.73 501.80,165.66" fill="#00ff84"/>
<polygon points="501.80,165.66 507.50,161.73 513.96,162.73 508.25,166.77" fill="#00ff63"/>
<polygon points="508.25,166.77 513.96,162.73 520.46,163.73 514.75,167.88" fill="#00ff42"/>
<polygon points="514.75,167.88 520.46,163.73 527.01,164.74 521.30,169.00" fill="#00ff20"/>
<polygon points="521.30,169.00 527.01,164.74 533.60,165.76 527.89,170.13" fill="#01ff00"/>
<polygon points="527.89,170.13 533.60,165.76 540.24,166.78 534.53,171.27" fill="#1cff00"/>
<polygon points="534.53,171.27 540.24,166.78 546.93,167.81 541.21,172.41" fill="#37ff00"/>
<polygon points="541.21,172.41 546.93,167.81 553.66,168.85 547.94,173.57" fill="#53ff00"/>
<polygon points="547.94,173.57 553.66,168.85 560.44,169.90 554.72,174.73" fill="#6eff00"/>
<polygon points="554.72,174.73 560.44,169.90 567.27,170.95 561.54,175.90" fill="#8aff00"/>
<polygon points="561.54,175.90 567.27,170.95 574.15,172.01 568.42,177.07" fill="#a5ff00"/>
<polygon points="568.42,177.07 574.15,172.01 581.07,173.08 575.34,178.26" fill="#c0ff00"/>
<polygon points="575.34,178.26 581.07,173.08 588.05,174.16 582.32,179.45" fill="#dcff00"/>
<polygon points="582.32,179.45 588.05,174.16 595.07,175.24 589.34,180.66" fill="#f7ff00"/>
<polygon points="589.34,180.66 595.07,175.24 602.15,176.33 596.41,181.87" fill="#ffef00"/>
<polygon points="596.41,181.87 602.15,176.33 609.28,177.43 603.54,183.09" fill="#ffd900"/>
<polygon points="475.86,156.85 481.50,153.48 487.75,154.34 482.10,157.82" fill="#00f7ff"/>
<polygon points="482.10,157.82 487.75,154.34 494.03,155.20 488.39,158.78" fill="#00ffe6"/>
<polygon points="488.39,158.78 494.03,155.20 500.37,156.07 494.71,159.76" fill="#00ffc3"/>
<polygon points="494.71,159.76 500.37,156.07 506.74,156.95 501.08,160.74" fill="#00ffa1"/>
<polygon points="501.08,160.74 506.74,156.95 513.16,157.83 507.50,161.73" fill="#00ff7f"/>
<polygon points="507.50,161.73 513.16,157.83 519.62,158.72 513.96,162.73" fill="#00ff5c"/>
<polygon points="513.96,162.73 519.62,158.72 526.13,159.61 520.46,163.73" fill="#00ff3a"/>
<polygon points="520.46,163.73 526.13,159.61 532.68,160.51 527.01,164.74" fill="#00ff18"/>
<polygon points="527.01,164.74 532.68,160.51 539.27,161.42 533.60,165.76" fill="#09ff00"/>
<polygon points="533.60,165.76 539.27,161.42 545.92,162.33 540.24,166.78" fill="#25ff00"/>
<polygon points="540.24,166.78 545.92,162.33 552.61,163.25 546.93,167.81" fill="#41ff00"/>
<polygon points="546.93,167.81 552.61,163.25 559.34,164.17 553.66,168.85" fill="#5eff00"/>
<polygon points="553.66,168.85 559.34,164.17 566.12,165.10 560.44,169.90" fill="#7aff00"/>
<polygon points="560.44,169.90 566.12,165.10 572.95,166.04 567.27,170.95" fill="#96ff00"/>
<polygon points="567.27,170.95 572.95,166.04 579.83,166.99 574.15,172.01" fill="#b2ff00"/>
<polygon points="574.15,172.01 579.83,166.99 586.76,167.94 581.07,173.08" fill="#cfff00"/>
<polygon points="581.07,173.08 586.76,167.94 593.74,168.90 588.05,174.16" fill="#ebff00"/>
<polygon points="588.05,174.16 593.74,168.90 600.77,169.86 595.07,175.24" fill="#fff800"/>
<polygon points="595.07,175.24 600.77,169.86 607.84,170.84 602.15,176.33" fill="#ffe200"/>
<polygon points="602.15,176.33 607.84,170.84 614.97,171.81 609.28,177.43" fill="#ffcb00"/>
<polygon points="481.50,153.48 487.10,150.13 493.35,150.89 487.75,154.34" fill="#00f8ff"/>
<polygon points="487.75,154.34 493.35,150.89 499.65,151.64 494.03,155.20" fill="#00ffe3"/>
<polygon points="494.03,155.20 499.65,151.64 505.98,152.41 500.37,156.07" fill="#00ffc0"/>
<polygon points="500.37,156.07 505.98,152.41 512.36,153.18 506.74,156.95" fill="#00ff9c"/>
<polygon points="506.74,156.95 512.36,153.18 518.78,153.95 513.16,157.83" fill="#00ff79"/>
<polygon points="513.16,157.83 518.78,153.95 525.24,154.73 519.62,158.72" fill="#00ff56"/>
<polygon points="519.62,158.72 525.24,154.73 531.75,155.52 526.13,159.61" fill="#00ff32"/>
<polygon points="526.13,159.61 531.75,155.52 538.31,156.31 532.68,160.51" fill="#00ff0f"/>
<polygon points="532.68,160.51 538.31,156.31 544.91,157.10 539.27,161.42" fill="#11ff00"/>
<polygon points="539.27,161.42 544.91,157.10 551.55,157.91 545.92,162.33" fill="#2eff00"/>
<polygon points="545.92,162.33 551.55,157.91 558.24,158.71 552.61,163.25" fill="#4bff00"/>
<polygon points="552.61,163.25 558.24,158.71 564.98,159.53 559.34,164.17" fill="#68ff00"/>
<polygon points="559.34,164.17 564.98,159.53 571.77,160.34 566.12,165.10" fill="#85ff00"/>
<polygon points="566.12,165.10 571.77,160.34 578.60,161.17 572.95,166.04" fill="#a2ff00"/>
<polygon points="572.95,166.04 578.60,161.17 585.48,162.00 579.83,166.99" fill="#bfff00"/>
<polygon points="579.83,166.99 585.48,162.00 592.41,162.83 586.76,167.94" fill="#ddff00"/>
<polygon points="586.76,167.94 592.41,162.83 599.39,163.68 593.74,168.90" fill="#faff00"/>
<polygon points="593.74,168.90 599.39,163.68 606.42,164.52 600.77,169.86" fill="#ffec00"/>
<polygon points="600.77,169.86 606.42,164.52 613.50,165.38 607.84,170.84" fill="#ffd400"/>
<polygon points="607.84,170.84 613.50,165.38 620.63,166.24 614.97,171.81" fill="#ffbd00"/>
<polygon points="487.10,150.13 492.67,146.80 498.92,147.46 493.35,150.89" fill="#00f9ff"/>
<polygon points="493.35,150.89 498.92,147.46 505.22,148.11 499.65,151.64" fill="#00ffe1"/>
<polygon points="499.65,151.64 505.22,148.11 511.56,148.77 505.98,152.41" fill="#00ffbc"/>
<polygon points="505.98,152.41 511.56,148.77 517.94,149.43 512.36,153.18" fill="#00ff98"/>
<polygon points="512.36,153.18 517.94,149.43 524.36,150.10 518.78,153.95" fill="#00ff73"/>
<polygon points="518.78,153.95 524.36,150.10 530.83,150.78 525.24,154.73" fill="#00ff4f"/>
<polygon points="525.24,154.73 530.83,150.78 537.34,151.45 531.75,155.52" fill="#00ff2b"/>
<polygon points="531.75,155.52 537.34,151.45 543.90,152.13 538.31,156.31" fill="#00ff06"/>
<polygon points="538.31,156.31 543.90,152.13 550.50,152.82 544.91,157.10" fill="#19ff00"/>
<polygon points="544.91,157.10 550.50,152.82 557.15,153.51 551.55,157.91" fill="#37ff00"/>
<polygon points="551.55,157.91 557.15,153.51 563.84,154.21 558.24,158.71" fill="#55ff00"/>
<polygon points="558.24,158.71 563.84,154.21 570.58,154.91 564.98,159.53" fill="#73ff00"/>
<polygon points="564.98,159.53 570.58,154.91 577.37,155.62 571.77,160.34" fill="#91ff00"/>
<polygon points="571.77,160.34 577.37,155.62 584.21,156.33 578.60,161.17" fill="#afff00"/>
<polygon points="578.60,161.17 584.21,156.33 591.09,157.05 585.48,162.00" fill="#cdff00"/>
<polygon points="585.48,162.00 591.09,157.05 598.02,157.77 592.41,162.83" fill="#ebff00"/>
<polygon points="592.41,162.83 598.02,157.77 605.00,158.49 599.39,163.68" fill="#fff700"/>
<polygon points="599.39,163.68 605.00,158.49 612.03,159.22 606.42,164.52" fill="#ffdf00"/>
<polygon points="606.42,164.52 612.03,159.22 619.11,159.96 613.50,165.38" fill="#ffc700"/>
<polygon points="613.50,165.38 619.11,159.96 626.24,160.70 620.63,166.24" fill="#ffae00"/>
<polygon points="492.67,146.80 498.20,143.50 504.46,144.05 498.92,147.46" fill="#00fbff"/>
<polygon points="498.92,147.46 504.46,144.05 510.75,144.60 505.22,148.11" fill="#00ffde"/>
<polygon points="505.22,148.11 510.75,144.60 517.10,145.16 511.56,148.77" fill="#00ffb9"/>
<polygon points="511.56,148.77 517.10,145.16 523.48,145.71 517.94,149.43" fill="#00ff93"/>
<polygon points="517.94,149.43 523.48,145.71 529.91,146.28 524.36,150.10" fill="#00ff6e"/>
<polygon points="524.36,150.10 529.91,146.28 536.38,146.84 530.83,150.78" fill="#00ff48"/>
<polygon points="530.83,150.78 536.38,146.84 542.89,147.42 537.34,151.45" fill="#00ff23"/>
<polygon points="537.34,151.45 542.89,147.42 549.45,147.99 543.90,152.13" fill="#02ff00"/>
<polygon points="543.90,152.13 549.45,147.99 556.06,148.57 550.50,152.82" fill="#21ff00"/>
<polygon points="550.50,152.82 556.06,148.57 562.71,149.15 557.15,153.51" fill="#40ff00"/>
<polygon points="557.15,153.51 562.71,149.15 569.40,149.74 563.84,154.21" fill="#5fff00"/>
<polygon points="563.84,154.21 569.40,149.74 576.15,150.33 570.58,154.91" fill="#7dff00"/>
<polygon points="570.58,154.91 576.15,150.33 582.94,150.92 577.37,155.62" fill="#9cff00"/>
<polygon points="577.37,155.62 582.94,150.92 589.77,151.52 584.21,156.33" fill="#bbff00"/>
<polygon points="584.21,156.33 589.77,151.52 596.66,152.13 591.09,157.05" fill="#daff00"/>
<polygon points="591.09,157.05 596.66,152.13 603.59,152.73 598.02,157.77" fill="#f9ff00"/>
<polygon points="598.02,157.77 603.59,152.73 610.57,153.34 605.00,158.49" fill="#ffeb00"/>
<polygon points="605.00,158.49 610.57,153.34 617.60,153.96 612.03,159.22" fill="#ffd200"/>
<polygon points="612.03,159.22 617.60,153.96 624.68,154.58 619.11,159.96" fill="#ffb900"/>
<polygon points="619.11,159.96 624.68,154.58 631.82,155.21 626.24,160.70" fill="#ffa000"/>
<polygon points="498.20,143.50 503.69,140.22 509.95,140.66 504.46,144.05" fill="#00fcff"/>
<polygon points="504.46,144.05 509.95,140.66 516.25,141.11 510.75,144.60" fill="#00ffdc"/>
<polygon points="510.75,144.60 516.25,141.11 522.60,141.57 517.10,145.16" fill="#00ffb5"/>
<polygon points="517.10,145.16 522.60,141.57 528.99,142.02 523.48,145.71" fill="#00ff8f"/>
<polygon points="523.48,145.71 528.99,142.02 535.42,142.48 529.91,146.28" fill="#00ff68"/>
<polygon points="529.91,146.28 535.42,142.48 541.89,142.94 536.38,146.84" fill="#00ff42"/>
<polygon points="536.38,146.84 541.89,142.94 548.41,143.41 542.89,147.42" fill="#00ff1b"/>
<polygon points="542.89,147.42 548.41,143.41 554.97,143.87 549.45,147.99" fill="#09ff00"/>
<polygon points="549.45,147.99 554.97,143.87 561.58,144.34 556.06,148.57" fill="#29ff00"/>
<polygon points="556.06,148.57 561.58,144.34 568.23,144.82 562.71,149.15" fill="#49ff00"/>
<polygon points="562.71,149.15 568.23,144.82 574.93,145.30 569.40,149.74" fill="#68ff00"/>
<polygon points="569.40,149.74 574.93,145.30 581.67,145.78 576.15,150.33" fill="#88ff00"/>
<polygon points="576.15,150.33 581.67,145.78 588.46,146.26 582.94,150.92" fill="#a8ff00"/>
<polygon points="582.94,150.92 588.46,146.26 595.30,146.75 589.77,151.52" fill="#c7ff00"/>
<polygon points="589.77,151.52 595.30,146.75 602.19,147.24 596.66,152.13" fill="#e7ff00"/>
<polygon points="596.66,152.13 602.19,147.24 609.12,147.74 603.59,152.73" fill="#fff900"/>
<polygon points="603.59,152.73 609.12,147.74 616.10,148.23 610.57,153.34" fill="#ffdf00"/>
<polygon points="610.57,153.34 616.10,148.23 623.14,148.73 617.60,153.96" fill="#ffc500"/>
<polygon points="617.60,153.96 623.14,148.73 630.22,149.24 624.68,154.58" fill="#ffac00"/>
<polygon points="624.68,154.58 630.22,149.24 637.35,149.75 631.82,155.21" fill="#ff9200"/>
<polygon points="503.69,140.22 509.15,136.96 515.41,137.30 509.95,140.66" fill="#00feff"/>
<polygon points="509.95,140.66 515.41,137.30 521.72,137.65 516.25,141.11" fill="#00ffd9"/>
<polygon points="516.25,141.11 521.72,137.65 528.06,138.00 522.60,141.57" fill="#00ffb1"/>
<polygon points="522.60,141.57 528.06,138.00 534.45,138.35 528.99,142.02" fill="#00ff8a"/>
<polygon points="528.99,142.02 534.45,138.35 540.89,138.71 535.42,142.48" fill="#00ff62"/>
<polygon points="535.42,142.48 540.89,138.71 547.36,139.06 541.89,142.94" fill="#00ff3b"/>
<polygon points="541.89,142.94 547.36,139.06 553.88,139.42 548.41,143.41" fill="#00ff13"/>
<polygon points="548.41,143.41 553.88,139.42 560.45,139.78 554.97,143.87" fill="#10ff00"/>
<polygon points="554.97,143.87 560.45,139.78 567.06,140.15 561.58,144.34" fill="#31ff00"/>
<polygon points="561.58,144.34 567.06,140.15 573.71,140.52 568.23,144.82" fill="#52ff00"/>
<polygon points="568.23,144.82 573.71,140.52 580.41,140.89 574.93,145.30" fill="#72ff00"/>
<polygon points="574.93,145.30 580.41,140.89 587.16,141.26 581.67,145.78" fill="#93ff00"/>
<polygon points="581.67,145.78 587.16,141.26 593.95,141.63 588.46,146.26" fill="#b3ff00"/>
<polygon points="588.46,146.26 593.95,141.63 600.79,142.01 595.30,146.75" fill="#d4ff00"/>
<polygon points="595.30,146.75 600.79,142.01 607.68,142.39 602.19,147.24" fill="#f4ff00"/>
<polygon points="602.19,147.24 607.68,142.39 614.61,142.77 609.12,147.74" fill="#ffed00"/>
<polygon points="609.12,147.74 614.61,142.77 621.60,143.16 616.10,148.23" fill="#ffd300"/>
<polygon points="616.10,148.23 621.60,143.16 628.63,143.55 623.14,148.73" fill="#ffb900"/>
<polygon points="623.14,148.73 628.63,143.55 635.71,143.94 630.22,149.24" fill="#ff9e00"/>
<polygon points="630.22,149.24 635.71,143.94 642.84,144.33 637.35,149.75" fill="#ff8400"/>
<polygon points="509.15,136.96 514.57,133.72 520.83,133.96 515.41,137.30" fill="#00ffff"/>
<polygon points="515.41,137.30 520.83,133.96 527.14,134.21 521.72,137.65" fill="#00ffd6"/>
<polygon points="521.72,137.65 527.14,134.21 533.49,134.46 528.06,138.00" fill="#00ffae"/>
<polygon points="528.06,138.00 533.49,134.46 539.89,134.71 534.45,138.35" fill="#00ff85"/>
<polygon points="534.45,138.35 539.89,134.71 546.32,134.96 540.89,138.71" fill="#00ff5d"/>
<polygon points="540.89,138.71 546.32,134.96 552.80,135.21 547.36,139.06" fill="#00ff34"/>
<polygon points="547.36,139.06 552.80,135.21 559.32,135.47 553.88,139.42" fill="#00ff0c"/>
<polygon points="553.88,139.42 559.32,135.47 565.89,135.72 560.45,139.78" fill="#18ff00"/>
<polygon points="560.45,139.78 565.89,135.72 572.50,135.98 567.06,140.15" fill="#39ff00"/>
<polygon points="567.06,140.15 572.50,135.98 579.16,136.24 573.71,140.52" fill="#5aff00"/>
<polygon points="573.71,140.52 579.16,136.24 585.86,136.51 580.41,140.89" fill="#7cff00"/>
<polygon points="580.41,140.89 585.86,136.51 592.61,136.77 587.16,141.26" fill="#9dff00"/>
<polygon points="587.16,141.26 592.61,136.77 599.40,137.04 593.95,141.63" fill="#bfff00"/>
<polygon points="593.95,141.63 599.40,137.04 606.24,137.30 600.79,142.01" fill="#e0ff00"/>
<polygon points="600.79,142.01 606.24,137.30 613.13,137.57 607.68,142.39" fill="#fffd00"/>
<polygon points="607.68,142.39 613.13,137.57 620.07,137.84 614.61,142.77" fill="#ffe200"/>
<polygon points="614.61,142.77 620.07,137.84 627.05,138.12 621.60,143.16" fill="#ffc700"/>
<polygon points="621.60,143.16 627.05,138.12 634.09,138.39 628.63,143.55" fill="#ffac00"/>
<polygon points="628.63,143.55 634.09,138.39 641.17,138.67 635.71,143.94" fill="#ff9100"/>
<polygon points="635.71,143.94 641.17,138.67 648.30,138.95 642.84,144.33" fill="#ff7600"/>
<polygon points="514.57,133.72 519.95,130.50 526.22,130.64 520.83,133.96" fill="#00fffe"/>
<polygon points="520.83,133.96 526.22,130.64 532.53,130.79 527.14,134.21" fill="#00ffd4"/>
<polygon points="527.14,134.21 532.53,130.79 538.89,130.94 533.49,134.46" fill="#00ffaa"/>
<polygon points="533.49,134.46 538.89,130.94 545.28,131.09 539.89,134.71" fill="#00ff81"/>
<polygon points="539.89,134.71 545.28,131.09 551.72,131.24 546.32,134.96" fill="#00ff57"/>
<polygon points="546.32,134.96 551.72,131.24 558.20,131.39 552.80,135.21" fill="#00ff2e"/>
<polygon points="552.80,135.21 558.20,131.39 564.73,131.54 559.32,135.47" fill="#00ff04"/>
<polygon points="559.32,135.47 564.73,131.54 571.29,131.69 565.89,135.72" fill="#1fff00"/>
<polygon points="565.89,135.72 571.29,131.69 577.91,131.84 572.50,135.98" fill="#41ff00"/>
<polygon points="572.50,135.98 577.91,131.84 584.57,132.00 579.16,136.24" fill="#63ff00"/>
<polygon points="579.16,136.24 584.57,132.00 591.27,132.15 585.86,136.51" fill="#86ff00"/>
<polygon points="585.86,136.51 591.27,132.15 598.02,132.31 592.61,136.77" fill="#a8ff00"/>
<polygon points="592.61,136.77 598.02,132.31 604.81,132.47 599.40,137.04" fill="#caff00"/>
<polygon points="599.40,137.04 604.81,132.47 611.66,132.63 606.24,137.30" fill="#ecff00"/>
<polygon points="606.24,137.30 611.66,132.63 618.55,132.79 613.13,137.57" fill="#fff200"/>
<polygon points="613.13,137.57 618.55,132.79 625.48,132.95 620.07,137.84" fill="#ffd700"/>
<polygon points="620.07,137.84 625.48,132.95 632.47,133.11 627.05,138.12" fill="#ffbb00"/>
<polygon points="627.05,138.12 632.47,133.11 639.50,133.28 634.09,138.39" fill="#ff9f00"/>
<polygon points="634.09,138.39 639.50,133.28 646.59,133.44 641.17,138.67" fill="#ff8300"/>
<polygon points="641.17,138.67 646.59,133.44 653.72,133.61 648.30,138.95" fill="#ff6800"/>
<polygon points="519.95,130.50 525.30,127.30 531.57,127.35 526.22,130.64" fill="#00fffc"/>
<polygon points="526.22,130.64 531.57,127.35 537.89,127.39 532.53,130.79" fill="#00ffd1"/>
<polygon points="532.53,130.79 537.89,127.39 544.24,127.44 538.89,130.94" fill="#00ffa7"/>
<polygon points="538.89,130.94 544.24,127.44 550.64,127.49 545.28,131.09" fill="#00ff7c"/>
<polygon points="545.28,131.09 550.64,127.49 557.08,127.54 551.72,131.24" fill="#00ff52"/>
<polygon points="551.72,131.24 557.08,127.54 563.57,127.59 558.20,131.39" fill="#00ff27"/>
<polygon points="558.20,131.39 563.57,127.59 570.09,127.63 564.73,131.54" fill="#03ff00"/>
<polygon points="564.73,131.54 570.09,127.63 576.66,127.68 571.29,131.69" fill="#26ff00"/>
<polygon points="571.29,131.69 576.66,127.68 583.28,127.73 577.91,131.84" fill="#49ff00"/>
<polygon points="577.91,131.84 583.28,127.73 589.94,127.78 584.57,132.00" fill="#6cff00"/>
<polygon points="584.57,132.00 589.94,127.78 596.64,127.83 591.27,132.15" fill="#8fff00"/>
<polygon points="591.27,132.15 596.64,127.83 603.39,127.88 598.02,132.31" fill="#b3ff00"/>
<polygon points="598.02,132.31 603.39,127.88 610.19,127.93 604.81,132.47" fill="#d6ff00"/>
<polygon points="604.81,132.47 610.19,127.93 617.03,127.99 611.66,132.63" fill="#f9ff00"/>
<polygon points="611.66,132.63 617.03,127.99 623.92,128.04 618.55,132.79" fill="#ffe800"/>
<polygon points="618.55,132.79 623.92,128.04 630.86,128.09 625.48,132.95" fill="#ffcb00"/>
<polygon points="625.48,132.95 630.86,128.09 637.85,128.14 632.47,133.11" fill="#ffaf00"/>
<polygon points="632.47,133.11 637.85,128.14 644.88,128.19 639.50,133.28" fill="#ff9200"/>
<polygon points="639.50,133.28 644.88,128.19 651.97,128.25 646.59,133.44" fill="#ff7600"/>
<polygon points="646.59,133.44 651.97,128.25 659.10,128.30 653.72,133.61" fill="#ff5a00"/>
</g>
<text x="388.60" y="10.80" font-size="7.5" text-anchor="start" fill="#111" font-weight="bold" textLength="69.60" lengthAdjust="spacingAndGlyphs" stroke="#111" stroke-width="0.28" >NIR Hyperthermia (˚C)</text>
<text x="391.20" y="22.40" font-size="7.2" text-anchor="start" fill="#3535ff" textLength="12.33" lengthAdjust="spacingAndGlyphs" stroke="#3535ff" stroke-width="0.18" >47.6</text>
<text x="435.80" y="22.40" font-size="7.2" text-anchor="start" fill="#ff3535" textLength="12.05" lengthAdjust="spacingAndGlyphs" stroke="#ff3535" stroke-width="0.18" >57.1</text>
<linearGradient id="gradb" x1="0" x2="1" y1="0" y2="0"><stop offset="0" stop-color="#0000ff"/><stop offset="0.5" stop-color="#00ee00"/><stop offset="1" stop-color="#ff0000"/></linearGradient>
<rect x="408.00" y="16.00" width="23.4" height="6.2" fill="url(#gradb)" stroke="#222" stroke-width="0.7"/>
<text x="388.60" y="50.90" font-size="7.2" text-anchor="start" fill="#202020" textLength="48.59" lengthAdjust="spacingAndGlyphs" stroke="#202020" stroke-width="0.18" >X1 = A: Span 60</text>
<text x="388.60" y="59.40" font-size="7.2" text-anchor="start" fill="#202020" textLength="57.88" lengthAdjust="spacingAndGlyphs" stroke="#202020" stroke-width="0.18" >X2 = B: Cholesterol</text>
<text x="388.60" y="77.60" font-size="7.5" text-anchor="start" fill="#111" font-weight="bold" textLength="41.00" lengthAdjust="spacingAndGlyphs" stroke="#111" stroke-width="0.28" >Coded Factor</text>
<text x="388.60" y="85.80" font-size="7.2" text-anchor="start" fill="#202020" textLength="68.30" lengthAdjust="spacingAndGlyphs" stroke="#202020" stroke-width="0.18" >C: Egg Lecithin = 0.000</text>
<text x="640.00" y="19.00" font-size="19.5" text-anchor="middle" fill="#111" font-family="Liberation Serif" textLength="20.69" lengthAdjust="spacingAndGlyphs" >(b)</text>
<text x="620.00" y="309.60" font-size="8.8" text-anchor="start" fill="#222" textLength="39.84" lengthAdjust="spacingAndGlyphs" stroke="#222" stroke-width="0.18" >A: Span 60</text>
<text x="413.90" y="319.90" font-size="8.8" text-anchor="start" fill="#222" textLength="50.57" lengthAdjust="spacingAndGlyphs" stroke="#222" stroke-width="0.18" >B: Cholesterol</text>
<text x="370.30" y="179.20" font-size="8.2" text-anchor="middle" fill="#1c1c1c" textLength="82.90" lengthAdjust="spacingAndGlyphs" transform="rotate(-90 370.30 179.20)" stroke="#1c1c1c" stroke-width="0.18" >NIR Hyperthermia (˚C)</text>
</g>
<g>
<polygon points="63.90,613.90 189.70,694.40 295.80,603.00 172.60,539.90" fill="#646464" stroke="#222" stroke-width="0.9" stroke-linejoin="round"/>
<clipPath id="clipc"><polygon points="63.90,613.90 189.70,694.40 295.80,603.00 172.60,539.90"/></clipPath>
<g clip-path="url(#clipc)" fill="none" stroke-width="1.7" stroke-linecap="butt">
<path d="M76.50,602.60 Q148.40,644.15 225.50,664.70" stroke="#d2f514"/>
<path d="M97.20,588.40 Q177.95,626.00 260.50,636.40" stroke="#30f040"/>
<path d="M117.00,575.40 Q202.50,604.50 292.00,610.40" stroke="#1cf070"/>
<path d="M200.00,577.50 Q228.50,581.80 263.00,585.30" stroke="#18ecd8"/>
</g>
<line x1="49.60" y1="475.60" x2="63.90" y2="613.90" stroke="#222" stroke-width="0.9" />
<line x1="80.35" y1="458.40" x2="88.66" y2="564.60" stroke="#222" stroke-width="0.9" />
<line x1="206.82" y1="421.42" x2="204.17" y2="525.50" stroke="#222" stroke-width="0.9" />
<line x1="111.10" y1="441.20" x2="116.64" y2="546.39" stroke="#222" stroke-width="0.9" />
<line x1="241.05" y1="436.05" x2="235.74" y2="541.01" stroke="#222" stroke-width="0.9" />
<line x1="141.85" y1="424.00" x2="144.62" y2="528.19" stroke="#222" stroke-width="0.9" />
<line x1="275.27" y1="450.68" x2="267.31" y2="556.53" stroke="#222" stroke-width="0.9" />
<line x1="172.60" y1="406.80" x2="172.60" y2="539.90" stroke="#222" stroke-width="0.9" />
<line x1="309.50" y1="465.30" x2="295.80" y2="603.00" stroke="#222" stroke-width="0.9" />
<line x1="49.60" y1="475.60" x2="172.60" y2="406.80" stroke="#222" stroke-width="0.9" />
<line x1="172.60" y1="406.80" x2="309.50" y2="465.30" stroke="#222" stroke-width="0.9" />
<circle cx="49.60" cy="475.60" r="1.4" fill="#111"/>
<text x="45.20" y="472.50" font-size="8.8" text-anchor="end" fill="#222" textLength="9.10" lengthAdjust="spacingAndGlyphs" stroke="#222" stroke-width="0.18" >60</text>
<line x1="51.45" y1="493.47" x2="172.60" y2="424.00" stroke="#222" stroke-width="0.9" />
<line x1="172.60" y1="424.00" x2="307.73" y2="483.09" stroke="#222" stroke-width="0.9" />
<circle cx="51.45" cy="493.47" r="1.4" fill="#111"/>
<text x="47.05" y="490.37" font-size="8.8" text-anchor="end" fill="#222" textLength="9.10" lengthAdjust="spacingAndGlyphs" stroke="#222" stroke-width="0.18" >58</text>
<line x1="53.30" y1="511.34" x2="172.60" y2="441.19" stroke="#222" stroke-width="0.9" />
<line x1="172.60" y1="441.19" x2="305.96" y2="500.88" stroke="#222" stroke-width="0.9" />
<circle cx="53.30" cy="511.34" r="1.4" fill="#111"/>
<text x="48.90" y="508.24" font-size="8.8" text-anchor="end" fill="#222" textLength="9.10" lengthAdjust="spacingAndGlyphs" stroke="#222" stroke-width="0.18" >56</text>
<line x1="55.14" y1="529.21" x2="172.60" y2="458.39" stroke="#222" stroke-width="0.9" />
<line x1="172.60" y1="458.39" x2="304.19" y2="518.67" stroke="#222" stroke-width="0.9" />
<circle cx="55.14" cy="529.21" r="1.4" fill="#111"/>
<text x="50.74" y="526.11" font-size="8.8" text-anchor="end" fill="#222" textLength="9.10" lengthAdjust="spacingAndGlyphs" stroke="#222" stroke-width="0.18" >54</text>
<line x1="56.99" y1="547.07" x2="172.60" y2="475.59" stroke="#222" stroke-width="0.9" />
<line x1="172.60" y1="475.59" x2="302.42" y2="536.46" stroke="#222" stroke-width="0.9" />
<circle cx="56.99" cy="547.07" r="1.4" fill="#111"/>
<text x="52.59" y="543.97" font-size="8.8" text-anchor="end" fill="#222" textLength="9.10" lengthAdjust="spacingAndGlyphs" stroke="#222" stroke-width="0.18" >52</text>
<line x1="58.84" y1="564.94" x2="172.60" y2="492.78" stroke="#222" stroke-width="0.9" />
<line x1="172.60" y1="492.78" x2="300.65" y2="554.25" stroke="#222" stroke-width="0.9" />
<circle cx="58.84" cy="564.94" r="1.4" fill="#111"/>
<text x="54.44" y="561.84" font-size="8.8" text-anchor="end" fill="#222" textLength="9.10" lengthAdjust="spacingAndGlyphs" stroke="#222" stroke-width="0.18" >50</text>
<line x1="60.69" y1="582.81" x2="172.60" y2="509.98" stroke="#222" stroke-width="0.9" />
<line x1="172.60" y1="509.98" x2="298.88" y2="572.05" stroke="#222" stroke-width="0.9" />
<circle cx="60.69" cy="582.81" r="1.4" fill="#111"/>
<text x="56.29" y="579.71" font-size="8.8" text-anchor="end" fill="#222" textLength="9.10" lengthAdjust="spacingAndGlyphs" stroke="#222" stroke-width="0.18" >48</text>
<line x1="63.90" y1="613.90" x2="189.70" y2="694.40" stroke="#222" stroke-width="0.9" />
<line x1="189.70" y1="694.40" x2="295.80" y2="603.00" stroke="#222" stroke-width="0.9" />
<circle cx="63.90" cy="613.90" r="1.4" fill="#111"/>
<text x="59.70" y="623.30" font-size="8.8" text-anchor="end" fill="#222" stroke="#222" stroke-width="0.18" >1</text>
<circle cx="295.80" cy="603.00" r="1.4" fill="#111"/>
<text x="300.10" y="612.20" font-size="8.8" text-anchor="start" fill="#222" stroke="#222" stroke-width="0.18" >1</text>
<circle cx="95.35" cy="634.02" r="1.4" fill="#111"/>
<text x="91.15" y="643.42" font-size="8.8" text-anchor="end" fill="#222" textLength="11.38" lengthAdjust="spacingAndGlyphs" stroke="#222" stroke-width="0.18" >0.5</text>
<circle cx="269.27" cy="625.85" r="1.4" fill="#111"/>
<text x="273.57" y="635.05" font-size="8.8" text-anchor="start" fill="#222" textLength="11.38" lengthAdjust="spacingAndGlyphs" stroke="#222" stroke-width="0.18" >0.5</text>
<circle cx="126.80" cy="654.15" r="1.4" fill="#111"/>
<text x="122.60" y="663.55" font-size="8.8" text-anchor="end" fill="#222" stroke="#222" stroke-width="0.18" >0</text>
<circle cx="242.75" cy="648.70" r="1.4" fill="#111"/>
<text x="247.05" y="657.90" font-size="8.8" text-anchor="start" fill="#222" stroke="#222" stroke-width="0.18" >0</text>
<circle cx="158.25" cy="674.27" r="1.4" fill="#111"/>
<text x="154.05" y="683.67" font-size="8.8" text-anchor="end" fill="#222" textLength="14.10" lengthAdjust="spacingAndGlyphs" stroke="#222" stroke-width="0.18" >-0.5</text>
<circle cx="216.22" cy="671.55" r="1.4" fill="#111"/>
<text x="220.53" y="680.75" font-size="8.8" text-anchor="start" fill="#222" textLength="14.10" lengthAdjust="spacingAndGlyphs" stroke="#222" stroke-width="0.18" >-0.5</text>
<circle cx="189.70" cy="694.40" r="1.4" fill="#111"/>
<text x="185.50" y="703.80" font-size="8.8" text-anchor="end" fill="#222" textLength="7.28" lengthAdjust="spacingAndGlyphs" stroke="#222" stroke-width="0.18" >-1</text>
<circle cx="189.70" cy="694.40" r="1.4" fill="#111"/>
<text x="194.00" y="703.60" font-size="8.8" text-anchor="start" fill="#222" textLength="7.28" lengthAdjust="spacingAndGlyphs" stroke="#222" stroke-width="0.18" >-1</text>
<g stroke="#0a0a0a" stroke-width="0.5" stroke-linejoin="round">
<polygon points="55.90,521.90 62.15,521.12 68.43,524.44 62.19,525.32" fill="#ffff00"/>
<polygon points="62.19,525.32 68.43,524.44 74.75,527.80 68.52,528.76" fill="#fffc00"/>
<polygon points="68.52,528.76 74.75,527.80 81.11,531.17 74.90,532.22" fill="#fff900"/>
<polygon points="74.90,532.22 81.11,531.17 87.52,534.57 81.33,535.71" fill="#fff600"/>
<polygon points="81.33,535.71 87.52,534.57 93.98,537.99 87.80,539.22" fill="#fff300"/>
<polygon points="87.80,539.22 93.98,537.99 100.48,541.44 94.32,542.76" fill="#fff000"/>
<polygon points="94.32,542.76 100.48,541.44 107.03,544.91 100.88,546.33" fill="#ffed00"/>
<polygon points="100.88,546.33 107.03,544.91 113.63,548.41 107.49,549.91" fill="#ffe900"/>
<polygon points="107.49,549.91 113.63,548.41 120.27,551.93 114.15,553.53" fill="#ffe600"/>
<polygon points="114.15,553.53 120.27,551.93 126.96,555.48 120.86,557.17" fill="#ffe300"/>
<polygon points="120.86,557.17 126.96,555.48 133.70,559.05 127.61,560.84" fill="#ffe000"/>
<polygon points="127.61,560.84 133.70,559.05 140.49,562.65 134.42,564.54" fill="#ffdd00"/>
<polygon points="134.42,564.54 140.49,562.65 147.33,566.27 141.27,568.26" fill="#ffda00"/>
<polygon points="141.27,568.26 147.33,566.27 154.22,569.92 148.18,572.01" fill="#ffd700"/>
<polygon points="148.18,572.01 154.22,569.92 161.16,573.60 155.13,575.79" fill="#ffd400"/>
<polygon points="155.13,575.79 161.16,573.60 168.15,577.31 162.14,579.59" fill="#ffd100"/>
<polygon points="162.14,579.59 168.15,577.31 175.19,581.04 169.20,583.43" fill="#ffce00"/>
<polygon points="169.20,583.43 175.19,581.04 182.29,584.80 176.31,587.29" fill="#ffcb00"/>
<polygon points="176.31,587.29 182.29,584.80 189.44,588.59 183.48,591.18" fill="#ffc800"/>
<polygon points="183.48,591.18 189.44,588.59 196.64,592.41 190.70,595.10" fill="#ffc500"/>
<polygon points="62.15,521.12 68.35,520.34 74.62,523.58 68.43,524.44" fill="#dfff00"/>
<polygon points="68.43,524.44 74.62,523.58 80.93,526.84 74.75,527.80" fill="#e3ff00"/>
<polygon points="74.75,527.80 80.93,526.84 87.28,530.13 81.11,531.17" fill="#e8ff00"/>
<polygon points="81.11,531.17 87.28,530.13 93.68,533.44 87.52,534.57" fill="#ecff00"/>
<polygon points="87.52,534.57 93.68,533.44 100.12,536.77 93.98,537.99" fill="#f0ff00"/>
<polygon points="93.98,537.99 100.12,536.77 106.61,540.12 100.48,541.44" fill="#f5ff00"/>
<polygon points="100.48,541.44 106.61,540.12 113.14,543.50 107.03,544.91" fill="#f9ff00"/>
<polygon points="107.03,544.91 113.14,543.50 119.72,546.91 113.63,548.41" fill="#fdff00"/>
<polygon points="113.63,548.41 119.72,546.91 126.35,550.34 120.27,551.93" fill="#fffd00"/>
<polygon points="120.27,551.93 126.35,550.34 133.03,553.79 126.96,555.48" fill="#fff900"/>
<polygon points="126.96,555.48 133.03,553.79 139.75,557.27 133.70,559.05" fill="#fff600"/>
<polygon points="133.70,559.05 139.75,557.27 146.53,560.77 140.49,562.65" fill="#fff200"/>
<polygon points="140.49,562.65 146.53,560.77 153.35,564.30 147.33,566.27" fill="#ffef00"/>
<polygon points="147.33,566.27 153.35,564.30 160.22,567.86 154.22,569.92" fill="#ffeb00"/>
<polygon points="154.22,569.92 160.22,567.86 167.14,571.44 161.16,573.60" fill="#ffe800"/>
<polygon points="161.16,573.60 167.14,571.44 174.12,575.04 168.15,577.31" fill="#ffe400"/>
<polygon points="168.15,577.31 174.12,575.04 181.14,578.68 175.19,581.04" fill="#ffe000"/>
<polygon points="175.19,581.04 181.14,578.68 188.22,582.34 182.29,584.80" fill="#ffdd00"/>
<polygon points="182.29,584.80 188.22,582.34 195.35,586.03 189.44,588.59" fill="#ffd900"/>
<polygon points="189.44,588.59 195.35,586.03 202.54,589.74 196.64,592.41" fill="#ffd600"/>
<polygon points="68.35,520.34 74.52,519.57 80.77,522.72 74.62,523.58" fill="#beff00"/>
<polygon points="74.62,523.58 80.77,522.72 87.06,525.89 80.93,526.84" fill="#c3ff00"/>
<polygon points="80.93,526.84 87.06,525.89 93.40,529.09 87.28,530.13" fill="#c8ff00"/>
<polygon points="87.28,530.13 93.40,529.09 99.78,532.31 93.68,533.44" fill="#cdff00"/>
<polygon points="93.68,533.44 99.78,532.31 106.21,535.55 100.12,536.77" fill="#d2ff00"/>
<polygon points="100.12,536.77 106.21,535.55 112.69,538.82 106.61,540.12" fill="#d7ff00"/>
<polygon points="106.61,540.12 112.69,538.82 119.21,542.11 113.14,543.50" fill="#dcff00"/>
<polygon points="113.14,543.50 119.21,542.11 125.77,545.42 119.72,546.91" fill="#e1ff00"/>
<polygon points="119.72,546.91 125.77,545.42 132.39,548.76 126.35,550.34" fill="#e6ff00"/>
<polygon points="126.35,550.34 132.39,548.76 139.05,552.12 133.03,553.79" fill="#ebff00"/>
<polygon points="133.03,553.79 139.05,552.12 145.76,555.50 139.75,557.27" fill="#f0ff00"/>
<polygon points="139.75,557.27 145.76,555.50 152.52,558.91 146.53,560.77" fill="#f5ff00"/>
<polygon points="146.53,560.77 152.52,558.91 159.32,562.34 153.35,564.30" fill="#faff00"/>
<polygon points="153.35,564.30 159.32,562.34 166.18,565.80 160.22,567.86" fill="#ffff00"/>
<polygon points="160.22,567.86 166.18,565.80 173.09,569.29 167.14,571.44" fill="#fffb00"/>
<polygon points="167.14,571.44 173.09,569.29 180.04,572.80 174.12,575.04" fill="#fff700"/>
<polygon points="174.12,575.04 180.04,572.80 187.05,576.33 181.14,578.68" fill="#fff300"/>
<polygon points="181.14,578.68 187.05,576.33 194.11,579.89 188.22,582.34" fill="#ffef00"/>
<polygon points="188.22,582.34 194.11,579.89 201.22,583.48 195.35,586.03" fill="#ffeb00"/>
<polygon points="195.35,586.03 201.22,583.48 208.39,587.09 202.54,589.74" fill="#ffe700"/>
<polygon points="74.52,519.57 80.63,518.80 86.87,521.86 80.77,522.72" fill="#9eff00"/>
<polygon points="80.77,522.72 86.87,521.86 93.16,524.95 87.06,525.89" fill="#a3ff00"/>
<polygon points="87.06,525.89 93.16,524.95 99.48,528.06 93.40,529.09" fill="#a9ff00"/>
<polygon points="93.40,529.09 99.48,528.06 105.85,531.20 99.78,532.31" fill="#afff00"/>
<polygon points="99.78,532.31 105.85,531.20 112.27,534.35 106.21,535.55" fill="#b4ff00"/>
<polygon points="106.21,535.55 112.27,534.35 118.73,537.53 112.69,538.82" fill="#baff00"/>
<polygon points="112.69,538.82 118.73,537.53 125.23,540.72 119.21,542.11" fill="#bfff00"/>
<polygon points="119.21,542.11 125.23,540.72 131.78,543.95 125.77,545.42" fill="#c5ff00"/>
<polygon points="125.77,545.42 131.78,543.95 138.38,547.19 132.39,548.76" fill="#cbff00"/>
<polygon points="132.39,548.76 138.38,547.19 145.03,550.46 139.05,552.12" fill="#d0ff00"/>
<polygon points="139.05,552.12 145.03,550.46 151.72,553.75 145.76,555.50" fill="#d6ff00"/>
<polygon points="145.76,555.50 151.72,553.75 158.46,557.06 152.52,558.91" fill="#dcff00"/>
<polygon points="152.52,558.91 158.46,557.06 165.25,560.40 159.32,562.34" fill="#e1ff00"/>
<polygon points="159.32,562.34 165.25,560.40 172.09,563.76 166.18,565.80" fill="#e7ff00"/>
<polygon points="166.18,565.80 172.09,563.76 178.98,567.15 173.09,569.29" fill="#edff00"/>
<polygon points="173.09,569.29 178.98,567.15 185.92,570.56 180.04,572.80" fill="#f2ff00"/>
<polygon points="180.04,572.80 185.92,570.56 192.91,574.00 187.05,576.33" fill="#f8ff00"/>
<polygon points="187.05,576.33 192.91,574.00 199.95,577.46 194.11,579.89" fill="#fdff00"/>
<polygon points="194.11,579.89 199.95,577.46 207.05,580.95 201.22,583.48" fill="#fffc00"/>
<polygon points="201.22,583.48 207.05,580.95 214.20,584.46 208.39,587.09" fill="#fff700"/>
<polygon points="80.63,518.80 86.71,518.04 92.94,521.02 86.87,521.86" fill="#7dff00"/>
<polygon points="86.87,521.86 92.94,521.02 99.21,524.02 93.16,524.95" fill="#83ff00"/>
<polygon points="93.16,524.95 99.21,524.02 105.52,527.04 99.48,528.06" fill="#8aff00"/>
<polygon points="99.48,528.06 105.52,527.04 111.87,530.09 105.85,531.20" fill="#90ff00"/>
<polygon points="105.85,531.20 111.87,530.09 118.28,533.15 112.27,534.35" fill="#96ff00"/>
<polygon points="112.27,534.35 118.28,533.15 124.72,536.24 118.73,537.53" fill="#9cff00"/>
<polygon points="118.73,537.53 124.72,536.24 131.21,539.35 125.23,540.72" fill="#a3ff00"/>
<polygon points="125.23,540.72 131.21,539.35 137.75,542.48 131.78,543.95" fill="#a9ff00"/>
<polygon points="131.78,543.95 137.75,542.48 144.33,545.63 138.38,547.19" fill="#afff00"/>
<polygon points="138.38,547.19 144.33,545.63 150.96,548.81 145.03,550.46" fill="#b5ff00"/>
<polygon points="145.03,550.46 150.96,548.81 157.64,552.01 151.72,553.75" fill="#bcff00"/>
<polygon points="151.72,553.75 157.64,552.01 164.37,555.23 158.46,557.06" fill="#c2ff00"/>
<polygon points="158.46,557.06 164.37,555.23 171.14,558.47 165.25,560.40" fill="#c8ff00"/>
<polygon points="165.25,560.40 171.14,558.47 177.96,561.74 172.09,563.76" fill="#cfff00"/>
<polygon points="172.09,563.76 177.96,561.74 184.84,565.03 178.98,567.15" fill="#d5ff00"/>
<polygon points="178.98,567.15 184.84,565.03 191.76,568.35 185.92,570.56" fill="#dbff00"/>
<polygon points="185.92,570.56 191.76,568.35 198.73,571.69 192.91,574.00" fill="#e1ff00"/>
<polygon points="192.91,574.00 198.73,571.69 205.76,575.05 199.95,577.46" fill="#e8ff00"/>
<polygon points="199.95,577.46 205.76,575.05 212.83,578.44 207.05,580.95" fill="#eeff00"/>
<polygon points="207.05,580.95 212.83,578.44 219.96,581.85 214.20,584.46" fill="#f4ff00"/>
<polygon points="86.71,518.04 92.75,517.28 98.96,520.18 92.94,521.02" fill="#5dff00"/>
<polygon points="92.94,521.02 98.96,520.18 105.22,523.09 99.21,524.02" fill="#63ff00"/>
<polygon points="99.21,524.02 105.22,523.09 111.51,526.03 105.52,527.04" fill="#6aff00"/>
<polygon points="105.52,527.04 111.51,526.03 117.86,528.99 111.87,530.09" fill="#71ff00"/>
<polygon points="111.87,530.09 117.86,528.99 124.24,531.96 118.28,533.15" fill="#78ff00"/>
<polygon points="118.28,533.15 124.24,531.96 130.67,534.96 124.72,536.24" fill="#7fff00"/>
<polygon points="124.72,536.24 130.67,534.96 137.15,537.98 131.21,539.35" fill="#86ff00"/>
<polygon points="131.21,539.35 137.15,537.98 143.67,541.02 137.75,542.48" fill="#8dff00"/>
<polygon points="137.75,542.48 143.67,541.02 150.24,544.09 144.33,545.63" fill="#94ff00"/>
<polygon points="144.33,545.63 150.24,544.09 156.86,547.17 150.96,548.81" fill="#9bff00"/>
<polygon points="150.96,548.81 156.86,547.17 163.52,550.28 157.64,552.01" fill="#a1ff00"/>
<polygon points="157.64,552.01 163.52,550.28 170.23,553.41 164.37,555.23" fill="#a8ff00"/>
<polygon points="164.37,555.23 170.23,553.41 176.99,556.56 171.14,558.47" fill="#afff00"/>
<polygon points="171.14,558.47 176.99,556.56 183.79,559.73 177.96,561.74" fill="#b6ff00"/>
<polygon points="177.96,561.74 183.79,559.73 190.65,562.93 184.84,565.03" fill="#bdff00"/>
<polygon points="184.84,565.03 190.65,562.93 197.55,566.15 191.76,568.35" fill="#c4ff00"/>
<polygon points="191.76,568.35 197.55,566.15 204.51,569.39 198.73,571.69" fill="#cbff00"/>
<polygon points="198.73,571.69 204.51,569.39 211.52,572.66 205.76,575.05" fill="#d2ff00"/>
<polygon points="205.76,575.05 211.52,572.66 218.57,575.95 212.83,578.44" fill="#d9ff00"/>
<polygon points="212.83,578.44 218.57,575.95 225.68,579.26 219.96,581.85" fill="#e0ff00"/>
<polygon points="92.75,517.28 98.74,516.53 104.94,519.34 98.96,520.18" fill="#3cff00"/>
<polygon points="98.96,520.18 104.94,519.34 111.18,522.17 105.22,523.09" fill="#43ff00"/>
<polygon points="105.22,523.09 111.18,522.17 117.47,525.02 111.51,526.03" fill="#4bff00"/>
<polygon points="111.51,526.03 117.47,525.02 123.80,527.89 117.86,528.99" fill="#53ff00"/>
<polygon points="117.86,528.99 123.80,527.89 130.17,530.78 124.24,531.96" fill="#5aff00"/>
<polygon points="124.24,531.96 130.17,530.78 136.59,533.69 130.67,534.96" fill="#62ff00"/>
<polygon points="130.67,534.96 136.59,533.69 143.05,536.63 137.15,537.98" fill="#69ff00"/>
<polygon points="137.15,537.98 143.05,536.63 149.56,539.58 143.67,541.02" fill="#71ff00"/>
<polygon points="143.67,541.02 149.56,539.58 156.11,542.55 150.24,544.09" fill="#78ff00"/>
<polygon points="150.24,544.09 156.11,542.55 162.71,545.55 156.86,547.17" fill="#80ff00"/>
<polygon points="156.86,547.17 162.71,545.55 169.35,548.56 163.52,550.28" fill="#87ff00"/>
<polygon points="163.52,550.28 169.35,548.56 176.05,551.60 170.23,553.41" fill="#8fff00"/>
<polygon points="170.23,553.41 176.05,551.60 182.79,554.66 176.99,556.56" fill="#96ff00"/>
<polygon points="176.99,556.56 182.79,554.66 189.58,557.74 183.79,559.73" fill="#9eff00"/>
<polygon points="183.79,559.73 189.58,557.74 196.42,560.84 190.65,562.93" fill="#a5ff00"/>
<polygon points="190.65,562.93 196.42,560.84 203.31,563.96 197.55,566.15" fill="#adff00"/>
<polygon points="197.55,566.15 203.31,563.96 210.25,567.11 204.51,569.39" fill="#b4ff00"/>
<polygon points="204.51,569.39 210.25,567.11 217.23,570.28 211.52,572.66" fill="#bcff00"/>
<polygon points="211.52,572.66 217.23,570.28 224.27,573.48 218.57,575.95" fill="#c3ff00"/>
<polygon points="218.57,575.95 224.27,573.48 231.37,576.69 225.68,579.26" fill="#cbff00"/>
<polygon points="98.74,516.53 104.70,515.78 110.88,518.51 104.94,519.34" fill="#1bff00"/>
<polygon points="104.94,519.34 110.88,518.51 117.11,521.26 111.18,522.17" fill="#24ff00"/>
<polygon points="111.18,522.17 117.11,521.26 123.38,524.02 117.47,525.02" fill="#2cff00"/>
<polygon points="117.47,525.02 123.38,524.02 129.70,526.81 123.80,527.89" fill="#34ff00"/>
<polygon points="123.80,527.89 129.70,526.81 136.05,529.61 130.17,530.78" fill="#3cff00"/>
<polygon points="130.17,530.78 136.05,529.61 142.46,532.44 136.59,533.69" fill="#44ff00"/>
<polygon points="136.59,533.69 142.46,532.44 148.90,535.28 143.05,536.63" fill="#4cff00"/>
<polygon points="143.05,536.63 148.90,535.28 155.40,538.14 149.56,539.58" fill="#54ff00"/>
<polygon points="149.56,539.58 155.40,538.14 161.93,541.03 156.11,542.55" fill="#5dff00"/>
<polygon points="156.11,542.55 161.93,541.03 168.52,543.93 162.71,545.55" fill="#65ff00"/>
<polygon points="162.71,545.55 168.52,543.93 175.15,546.86 169.35,548.56" fill="#6dff00"/>
<polygon points="169.35,548.56 175.15,546.86 181.83,549.80 176.05,551.60" fill="#75ff00"/>
<polygon points="176.05,551.60 181.83,549.80 188.55,552.77 182.79,554.66" fill="#7dff00"/>
<polygon points="182.79,554.66 188.55,552.77 195.33,555.76 189.58,557.74" fill="#85ff00"/>
<polygon points="189.58,557.74 195.33,555.76 202.15,558.76 196.42,560.84" fill="#8eff00"/>
<polygon points="196.42,560.84 202.15,558.76 209.02,561.80 203.31,563.96" fill="#96ff00"/>
<polygon points="203.31,563.96 209.02,561.80 215.94,564.85 210.25,567.11" fill="#9eff00"/>
<polygon points="210.25,567.11 215.94,564.85 222.91,567.92 217.23,570.28" fill="#a6ff00"/>
<polygon points="217.23,570.28 222.91,567.92 229.93,571.02 224.27,573.48" fill="#aeff00"/>
<polygon points="224.27,573.48 229.93,571.02 237.00,574.14 231.37,576.69" fill="#b6ff00"/>
<polygon points="104.70,515.78 110.61,515.04 116.78,517.68 110.88,518.51" fill="#00ff06"/>
<polygon points="110.88,518.51 116.78,517.68 123.00,520.35 117.11,521.26" fill="#04ff00"/>
<polygon points="117.11,521.26 123.00,520.35 129.25,523.03 123.38,524.02" fill="#0cff00"/>
<polygon points="123.38,524.02 129.25,523.03 135.55,525.73 129.70,526.81" fill="#15ff00"/>
<polygon points="129.70,526.81 135.55,525.73 141.90,528.45 136.05,529.61" fill="#1eff00"/>
<polygon points="136.05,529.61 141.90,528.45 148.29,531.19 142.46,532.44" fill="#27ff00"/>
<polygon points="142.46,532.44 148.29,531.19 154.72,533.94 148.90,535.28" fill="#30ff00"/>
<polygon points="148.90,535.28 154.72,533.94 161.20,536.72 155.40,538.14" fill="#38ff00"/>
<polygon points="155.40,538.14 161.20,536.72 167.72,539.51 161.93,541.03" fill="#41ff00"/>
<polygon points="161.93,541.03 167.72,539.51 174.29,542.33 168.52,543.93" fill="#4aff00"/>
<polygon points="168.52,543.93 174.29,542.33 180.90,545.16 175.15,546.86" fill="#53ff00"/>
<polygon points="175.15,546.86 180.90,545.16 187.56,548.02 181.83,549.80" fill="#5bff00"/>
<polygon points="181.83,549.80 187.56,548.02 194.27,550.89 188.55,552.77" fill="#64ff00"/>
<polygon points="188.55,552.77 194.27,550.89 201.03,553.79 195.33,555.76" fill="#6dff00"/>
<polygon points="195.33,555.76 201.03,553.79 207.83,556.71 202.15,558.76" fill="#76ff00"/>
<polygon points="202.15,558.76 207.83,556.71 214.69,559.64 209.02,561.80" fill="#7fff00"/>
<polygon points="209.02,561.80 214.69,559.64 221.59,562.60 215.94,564.85" fill="#87ff00"/>
<polygon points="215.94,564.85 221.59,562.60 228.55,565.58 222.91,567.92" fill="#90ff00"/>
<polygon points="222.91,567.92 228.55,565.58 235.55,568.58 229.93,571.02" fill="#99ff00"/>
<polygon points="229.93,571.02 235.55,568.58 242.60,571.61 237.00,574.14" fill="#a2ff00"/>
<polygon points="110.61,515.04 116.48,514.30 122.64,516.86 116.78,517.68" fill="#00ff2e"/>
<polygon points="116.78,517.68 122.64,516.86 128.84,519.44 123.00,520.35" fill="#00ff22"/>
<polygon points="123.00,520.35 128.84,519.44 135.09,522.04 129.25,523.03" fill="#00ff17"/>
<polygon points="129.25,523.03 135.09,522.04 141.37,524.66 135.55,525.73" fill="#00ff0c"/>
<polygon points="135.55,525.73 141.37,524.66 147.70,527.29 141.90,528.45" fill="#00ff00"/>
<polygon points="141.90,528.45 147.70,527.29 154.08,529.94 148.29,531.19" fill="#09ff00"/>
<polygon points="148.29,531.19 154.08,529.94 160.49,532.61 154.72,533.94" fill="#13ff00"/>
<polygon points="154.72,533.94 160.49,532.61 166.96,535.30 161.20,536.72" fill="#1cff00"/>
<polygon points="161.20,536.72 166.96,535.30 173.46,538.01 167.72,539.51" fill="#26ff00"/>
<polygon points="167.72,539.51 173.46,538.01 180.02,540.74 174.29,542.33" fill="#2fff00"/>
<polygon points="174.29,542.33 180.02,540.74 186.62,543.48 180.90,545.16" fill="#38ff00"/>
<polygon points="180.90,545.16 186.62,543.48 193.26,546.25 187.56,548.02" fill="#42ff00"/>
<polygon points="187.56,548.02 193.26,546.25 199.95,549.03 194.27,550.89" fill="#4bff00"/>
<polygon points="194.27,550.89 199.95,549.03 206.69,551.84 201.03,553.79" fill="#55ff00"/>
<polygon points="201.03,553.79 206.69,551.84 213.48,554.66 207.83,556.71" fill="#5eff00"/>
<polygon points="207.83,556.71 213.48,554.66 220.32,557.51 214.69,559.64" fill="#68ff00"/>
<polygon points="214.69,559.64 220.32,557.51 227.20,560.37 221.59,562.60" fill="#71ff00"/>
<polygon points="221.59,562.60 227.20,560.37 234.14,563.26 228.55,565.58" fill="#7aff00"/>
<polygon points="228.55,565.58 234.14,563.26 241.13,566.16 235.55,568.58" fill="#84ff00"/>
<polygon points="235.55,568.58 241.13,566.16 248.16,569.09 242.60,571.61" fill="#8dff00"/>
<polygon points="116.48,514.30 122.32,513.57 128.46,516.05 122.64,516.86" fill="#00ff55"/>
<polygon points="122.64,516.86 128.46,516.05 134.65,518.55 128.84,519.44" fill="#00ff49"/>
<polygon points="128.84,519.44 134.65,518.55 140.88,521.06 135.09,522.04" fill="#00ff3d"/>
<polygon points="135.09,522.04 140.88,521.06 147.15,523.59 141.37,524.66" fill="#00ff31"/>
<polygon points="141.37,524.66 147.15,523.59 153.47,526.14 147.70,527.29" fill="#00ff25"/>
<polygon points="147.70,527.29 153.47,526.14 159.83,528.71 154.08,529.94" fill="#00ff18"/>
<polygon points="154.08,529.94 159.83,528.71 166.23,531.29 160.49,532.61" fill="#00ff0c"/>
<polygon points="160.49,532.61 166.23,531.29 172.68,533.90 166.96,535.30" fill="#00ff00"/>
<polygon points="166.96,535.30 172.68,533.90 179.17,536.52 173.46,538.01" fill="#0aff00"/>
<polygon points="173.46,538.01 179.17,536.52 185.71,539.16 180.02,540.74" fill="#14ff00"/>
<polygon points="180.02,540.74 185.71,539.16 192.29,541.81 186.62,543.48" fill="#1eff00"/>
<polygon points="186.62,543.48 192.29,541.81 198.92,544.49 193.26,546.25" fill="#28ff00"/>
<polygon points="193.26,546.25 198.92,544.49 205.59,547.18 199.95,549.03" fill="#32ff00"/>
<polygon points="199.95,549.03 205.59,547.18 212.32,549.90 206.69,551.84" fill="#3cff00"/>
<polygon points="206.69,551.84 212.32,549.90 219.09,552.63 213.48,554.66" fill="#46ff00"/>
<polygon points="213.48,554.66 219.09,552.63 225.91,555.38 220.32,557.51" fill="#50ff00"/>
<polygon points="220.32,557.51 225.91,555.38 232.78,558.16 227.20,560.37" fill="#5aff00"/>
<polygon points="227.20,560.37 232.78,558.16 239.69,560.95 234.14,563.26" fill="#65ff00"/>
<polygon points="234.14,563.26 239.69,560.95 246.66,563.76 241.13,566.16" fill="#6fff00"/>
<polygon points="241.13,566.16 246.66,563.76 253.68,566.59 248.16,569.09" fill="#79ff00"/>
<polygon points="122.32,513.57 128.11,512.84 134.24,515.24 128.46,516.05" fill="#00ff7d"/>
<polygon points="128.46,516.05 134.24,515.24 140.42,517.66 134.65,518.55" fill="#00ff70"/>
<polygon points="134.65,518.55 140.42,517.66 146.63,520.09 140.88,521.06" fill="#00ff63"/>
<polygon points="140.88,521.06 146.63,520.09 152.89,522.54 147.15,523.59" fill="#00ff56"/>
<polygon points="147.15,523.59 152.89,522.54 159.19,525.00 153.47,526.14" fill="#00ff49"/>
<polygon points="153.47,526.14 159.19,525.00 165.54,527.49 159.83,528.71" fill="#00ff3c"/>
<polygon points="159.83,528.71 165.54,527.49 171.93,529.98 166.23,531.29" fill="#00ff2f"/>
<polygon points="166.23,531.29 171.93,529.98 178.36,532.50 172.68,533.90" fill="#00ff22"/>
<polygon points="172.68,533.90 178.36,532.50 184.83,535.04 179.17,536.52" fill="#00ff15"/>
<polygon points="179.17,536.52 184.83,535.04 191.36,537.59 185.71,539.16" fill="#00ff08"/>
<polygon points="185.71,539.16 191.36,537.59 197.92,540.16 192.29,541.81" fill="#04ff00"/>
<polygon points="192.29,541.81 197.92,540.16 204.54,542.74 198.92,544.49" fill="#0fff00"/>
<polygon points="198.92,544.49 204.54,542.74 211.20,545.35 205.59,547.18" fill="#19ff00"/>
<polygon points="205.59,547.18 211.20,545.35 217.90,547.97 212.32,549.90" fill="#24ff00"/>
<polygon points="212.32,549.90 217.90,547.97 224.66,550.61 219.09,552.63" fill="#2fff00"/>
<polygon points="219.09,552.63 224.66,550.61 231.46,553.28 225.91,555.38" fill="#39ff00"/>
<polygon points="225.91,555.38 231.46,553.28 238.31,555.96 232.78,558.16" fill="#44ff00"/>
<polygon points="232.78,558.16 238.31,555.96 245.21,558.66 239.69,560.95" fill="#4fff00"/>
<polygon points="239.69,560.95 245.21,558.66 252.16,561.37 246.66,563.76" fill="#59ff00"/>
<polygon points="246.66,563.76 252.16,561.37 259.16,564.11 253.68,566.59" fill="#64ff00"/>
<polygon points="128.11,512.84 133.87,512.12 139.98,514.44 134.24,515.24" fill="#00ffa5"/>
<polygon points="134.24,515.24 139.98,514.44 146.15,516.77 140.42,517.66" fill="#00ff97"/>
<polygon points="140.42,517.66 146.15,516.77 152.35,519.12 146.63,520.09" fill="#00ff89"/>
<polygon points="146.63,520.09 152.35,519.12 158.59,521.49 152.89,522.54" fill="#00ff7b"/>
<polygon points="152.89,522.54 158.59,521.49 164.88,523.87 159.19,525.00" fill="#00ff6e"/>
<polygon points="159.19,525.00 164.88,523.87 171.21,526.27 165.54,527.49" fill="#00ff60"/>
<polygon points="165.54,527.49 171.21,526.27 177.58,528.68 171.93,529.98" fill="#00ff52"/>
<polygon points="171.93,529.98 177.58,528.68 184.00,531.12 178.36,532.50" fill="#00ff44"/>
<polygon points="178.36,532.50 184.00,531.12 190.46,533.56 184.83,535.04" fill="#00ff37"/>
<polygon points="184.83,535.04 190.46,533.56 196.97,536.03 191.36,537.59" fill="#00ff29"/>
<polygon points="191.36,537.59 196.97,536.03 203.52,538.51 197.92,540.16" fill="#00ff1b"/>
<polygon points="197.92,540.16 203.52,538.51 210.11,541.01 204.54,542.74" fill="#00ff0d"/>
<polygon points="204.54,542.74 210.11,541.01 216.76,543.53 211.20,545.35" fill="#00ff00"/>
<polygon points="211.20,545.35 216.76,543.53 223.45,546.06 217.90,547.97" fill="#0cff00"/>
<polygon points="217.90,547.97 223.45,546.06 230.18,548.61 224.66,550.61" fill="#17ff00"/>
<polygon points="224.66,550.61 230.18,548.61 236.97,551.18 231.46,553.28" fill="#22ff00"/>
<polygon points="231.46,553.28 236.97,551.18 243.80,553.77 238.31,555.96" fill="#2eff00"/>
<polygon points="238.31,555.96 243.80,553.77 250.68,556.38 245.21,558.66" fill="#39ff00"/>
<polygon points="245.21,558.66 250.68,556.38 257.61,559.01 252.16,561.37" fill="#44ff00"/>
<polygon points="252.16,561.37 257.61,559.01 264.60,561.65 259.16,564.11" fill="#4fff00"/>
<polygon points="133.87,512.12 139.58,511.40 145.69,513.64 139.98,514.44" fill="#00ffcc"/>
<polygon points="139.98,514.44 145.69,513.64 151.84,515.90 146.15,516.77" fill="#00ffbe"/>
<polygon points="146.15,516.77 151.84,515.90 158.02,518.16 152.35,519.12" fill="#00ffaf"/>
<polygon points="152.35,519.12 158.02,518.16 164.25,520.45 158.59,521.49" fill="#00ffa1"/>
<polygon points="158.59,521.49 164.25,520.45 170.53,522.75 164.88,523.87" fill="#00ff92"/>
<polygon points="164.88,523.87 170.53,522.75 176.84,525.06 171.21,526.27" fill="#00ff84"/>
<polygon points="171.21,526.27 176.84,525.06 183.20,527.39 177.58,528.68" fill="#00ff75"/>
<polygon points="177.58,528.68 183.20,527.39 189.60,529.74 184.00,531.12" fill="#00ff67"/>
<polygon points="184.00,531.12 189.60,529.74 196.05,532.10 190.46,533.56" fill="#00ff58"/>
<polygon points="190.46,533.56 196.05,532.10 202.54,534.48 196.97,536.03" fill="#00ff4a"/>
<polygon points="196.97,536.03 202.54,534.48 209.07,536.88 203.52,538.51" fill="#00ff3b"/>
<polygon points="203.52,538.51 209.07,536.88 215.65,539.29 210.11,541.01" fill="#00ff2d"/>
<polygon points="210.11,541.01 215.65,539.29 222.28,541.72 216.76,543.53" fill="#00ff1e"/>
<polygon points="216.76,543.53 222.28,541.72 228.95,544.16 223.45,546.06" fill="#00ff10"/>
<polygon points="223.45,546.06 228.95,544.16 235.67,546.63 230.18,548.61" fill="#00ff01"/>
<polygon points="230.18,548.61 235.67,546.63 242.44,549.11 236.97,551.18" fill="#0bff00"/>
<polygon points="236.97,551.18 242.44,549.11 249.26,551.60 243.80,553.77" fill="#17ff00"/>
<polygon points="243.80,553.77 249.26,551.60 256.12,554.12 250.68,556.38" fill="#23ff00"/>
<polygon points="250.68,556.38 256.12,554.12 263.03,556.65 257.61,559.01" fill="#2fff00"/>
<polygon points="257.61,559.01 263.03,556.65 270.00,559.21 264.60,561.65" fill="#3bff00"/>
<polygon points="139.58,511.40 145.26,510.69 151.35,512.85 145.69,513.64" fill="#00fff4"/>
<polygon points="145.69,513.64 151.35,512.85 157.49,515.02 151.84,515.90" fill="#00ffe4"/>
<polygon points="151.84,515.90 157.49,515.02 163.66,517.21 158.02,518.16" fill="#00ffd5"/>
<polygon points="158.02,518.16 163.66,517.21 169.88,519.41 164.25,520.45" fill="#00ffc6"/>
<polygon points="164.25,520.45 169.88,519.41 176.14,521.63 170.53,522.75" fill="#00ffb7"/>
<polygon points="170.53,522.75 176.14,521.63 182.44,523.86 176.84,525.06" fill="#00ffa7"/>
<polygon points="176.84,525.06 182.44,523.86 188.78,526.11 183.20,527.39" fill="#00ff98"/>
<polygon points="183.20,527.39 188.78,526.11 195.17,528.37 189.60,529.74" fill="#00ff89"/>
<polygon points="189.60,529.74 195.17,528.37 201.60,530.65 196.05,532.10" fill="#00ff79"/>
<polygon points="196.05,532.10 201.60,530.65 208.07,532.94 202.54,534.48" fill="#00ff6a"/>
<polygon points="202.54,534.48 208.07,532.94 214.59,535.25 209.07,536.88" fill="#00ff5b"/>
<polygon points="209.07,536.88 214.59,535.25 221.16,537.58 215.65,539.29" fill="#00ff4c"/>
<polygon points="215.65,539.29 221.16,537.58 227.77,539.92 222.28,541.72" fill="#00ff3c"/>
<polygon points="222.28,541.72 227.77,539.92 234.42,542.28 228.95,544.16" fill="#00ff2d"/>
<polygon points="228.95,544.16 234.42,542.28 241.13,544.65 235.67,546.63" fill="#00ff1e"/>
<polygon points="235.67,546.63 241.13,544.65 247.88,547.04 242.44,549.11" fill="#00ff0f"/>
<polygon points="242.44,549.11 247.88,547.04 254.67,549.45 249.26,551.60" fill="#01ff00"/>
<polygon points="249.26,551.60 254.67,549.45 261.52,551.88 256.12,554.12" fill="#0dff00"/>
<polygon points="256.12,554.12 261.52,551.88 268.41,554.32 263.03,556.65" fill="#1aff00"/>
<polygon points="263.03,556.65 268.41,554.32 275.36,556.78 270.00,559.21" fill="#26ff00"/>
<polygon points="145.26,510.69 150.90,509.98 156.98,512.06 151.35,512.85" fill="#00e4ff"/>
<polygon points="151.35,512.85 156.98,512.06 163.10,514.16 157.49,515.02" fill="#00f3ff"/>
<polygon points="157.49,515.02 163.10,514.16 169.26,516.26 163.66,517.21" fill="#00fffb"/>
<polygon points="163.66,517.21 169.26,516.26 175.46,518.38 169.88,519.41" fill="#00ffeb"/>
<polygon points="169.88,519.41 175.46,518.38 181.71,520.52 176.14,521.63" fill="#00ffdb"/>
<polygon points="176.14,521.63 181.71,520.52 187.99,522.67 182.44,523.86" fill="#00ffcb"/>
<polygon points="182.44,523.86 187.99,522.67 194.32,524.83 188.78,526.11" fill="#00ffbb"/>
<polygon points="188.78,526.11 194.32,524.83 200.69,527.01 195.17,528.37" fill="#00ffab"/>
<polygon points="195.17,528.37 200.69,527.01 207.11,529.21 201.60,530.65" fill="#00ff9b"/>
<polygon points="201.60,530.65 207.11,529.21 213.57,531.42 208.07,532.94" fill="#00ff8b"/>
<polygon points="208.07,532.94 213.57,531.42 220.07,533.64 214.59,535.25" fill="#00ff7b"/>
<polygon points="214.59,535.25 220.07,533.64 226.62,535.88 221.16,537.58" fill="#00ff6b"/>
<polygon points="221.16,537.58 226.62,535.88 233.21,538.14 227.77,539.92" fill="#00ff5b"/>
<polygon points="227.77,539.92 233.21,538.14 239.85,540.41 234.42,542.28" fill="#00ff4b"/>
<polygon points="234.42,542.28 239.85,540.41 246.54,542.69 241.13,544.65" fill="#00ff3b"/>
<polygon points="241.13,544.65 246.54,542.69 253.27,545.00 247.88,547.04" fill="#00ff2b"/>
<polygon points="247.88,547.04 253.27,545.00 260.05,547.31 254.67,549.45" fill="#00ff1b"/>
<polygon points="254.67,549.45 260.05,547.31 266.88,549.65 261.52,551.88" fill="#00ff0b"/>
<polygon points="261.52,551.88 266.88,549.65 273.75,552.00 268.41,554.32" fill="#05ff00"/>
<polygon points="268.41,554.32 273.75,552.00 280.68,554.37 275.36,556.78" fill="#12ff00"/>
<polygon points="150.90,509.98 156.51,509.28 162.57,511.28 156.98,512.06" fill="#00beff"/>
<polygon points="156.98,512.06 162.57,511.28 168.68,513.30 163.10,514.16" fill="#00ceff"/>
<polygon points="163.10,514.16 168.68,513.30 174.82,515.32 169.26,516.26" fill="#00deff"/>
<polygon points="169.26,516.26 174.82,515.32 181.01,517.36 175.46,518.38" fill="#00eeff"/>
<polygon points="175.46,518.38 181.01,517.36 187.24,519.42 181.71,520.52" fill="#00feff"/>
<polygon points="181.71,520.52 187.24,519.42 193.51,521.49 187.99,522.67" fill="#00ffef"/>
<polygon points="187.99,522.67 193.51,521.49 199.83,523.57 194.32,524.83" fill="#00ffde"/>
<polygon points="194.32,524.83 199.83,523.57 206.18,525.66 200.69,527.01" fill="#00ffcd"/>
<polygon points="200.69,527.01 206.18,525.66 212.58,527.77 207.11,529.21" fill="#00ffbc"/>
<polygon points="207.11,529.21 212.58,527.77 219.02,529.90 213.57,531.42" fill="#00ffac"/>
<polygon points="213.57,531.42 219.02,529.90 225.51,532.04 220.07,533.64" fill="#00ff9b"/>
<polygon points="220.07,533.64 225.51,532.04 232.04,534.19 226.62,535.88" fill="#00ff8a"/>
<polygon points="226.62,535.88 232.04,534.19 238.62,536.36 233.21,538.14" fill="#00ff79"/>
<polygon points="233.21,538.14 238.62,536.36 245.24,538.55 239.85,540.41" fill="#00ff68"/>
<polygon points="239.85,540.41 245.24,538.55 251.91,540.75 246.54,542.69" fill="#00ff57"/>
<polygon points="246.54,542.69 251.91,540.75 258.63,542.96 253.27,545.00" fill="#00ff47"/>
<polygon points="253.27,545.00 258.63,542.96 265.39,545.19 260.05,547.31" fill="#00ff36"/>
<polygon points="260.05,547.31 265.39,545.19 272.20,547.44 266.88,549.65" fill="#00ff25"/>
<polygon points="266.88,549.65 272.20,547.44 279.06,549.70 273.75,552.00" fill="#00ff14"/>
<polygon points="273.75,552.00 279.06,549.70 285.97,551.98 280.68,554.37" fill="#00ff03"/>
<polygon points="156.51,509.28 162.07,508.58 168.13,510.51 162.57,511.28" fill="#0099ff"/>
<polygon points="162.57,511.28 168.13,510.51 174.22,512.44 168.68,513.30" fill="#00a9ff"/>
<polygon points="168.68,513.30 174.22,512.44 180.35,514.39 174.82,515.32" fill="#00baff"/>
<polygon points="174.82,515.32 180.35,514.39 186.52,516.35 181.01,517.36" fill="#00cbff"/>
<polygon points="181.01,517.36 186.52,516.35 192.74,518.32 187.24,519.42" fill="#00dcff"/>
<polygon points="187.24,519.42 192.74,518.32 198.99,520.31 193.51,521.49" fill="#00ecff"/>
<polygon points="193.51,521.49 198.99,520.31 205.29,522.31 199.83,523.57" fill="#00fdff"/>
<polygon points="199.83,523.57 205.29,522.31 211.63,524.32 206.18,525.66" fill="#00ffef"/>
<polygon points="206.18,525.66 211.63,524.32 218.02,526.35 212.58,527.77" fill="#00ffde"/>
<polygon points="212.58,527.77 218.02,526.35 224.45,528.39 219.02,529.90" fill="#00ffcc"/>
<polygon points="219.02,529.90 224.45,528.39 230.92,530.45 225.51,532.04" fill="#00ffbb"/>
<polygon points="225.51,532.04 230.92,530.45 237.43,532.52 232.04,534.19" fill="#00ffa9"/>
<polygon points="232.04,534.19 237.43,532.52 243.99,534.60 238.62,536.36" fill="#00ff97"/>
<polygon points="238.62,536.36 243.99,534.60 250.60,536.70 245.24,538.55" fill="#00ff86"/>
<polygon points="245.24,538.55 250.60,536.70 257.25,538.81 251.91,540.75" fill="#00ff74"/>
<polygon points="251.91,540.75 257.25,538.81 263.95,540.94 258.63,542.96" fill="#00ff63"/>
<polygon points="258.63,542.96 263.95,540.94 270.69,543.08 265.39,545.19" fill="#00ff51"/>
<polygon points="265.39,545.19 270.69,543.08 277.49,545.24 272.20,547.44" fill="#00ff40"/>
<polygon points="272.20,547.44 277.49,545.24 284.33,547.41 279.06,549.70" fill="#00ff2e"/>
<polygon points="279.06,549.70 284.33,547.41 291.21,549.60 285.97,551.98" fill="#00ff1c"/>
<polygon points="162.07,508.58 167.61,507.89 173.64,509.73 168.13,510.51" fill="#0073ff"/>
<polygon points="168.13,510.51 173.64,509.73 179.72,511.59 174.22,512.44" fill="#0084ff"/>
<polygon points="174.22,512.44 179.72,511.59 185.84,513.46 180.35,514.39" fill="#0096ff"/>
<polygon points="180.35,514.39 185.84,513.46 192.00,515.34 186.52,516.35" fill="#00a7ff"/>
<polygon points="186.52,516.35 192.00,515.34 198.20,517.24 192.74,518.32" fill="#00b9ff"/>
<polygon points="192.74,518.32 198.20,517.24 204.44,519.14 198.99,520.31" fill="#00caff"/>
<polygon points="198.99,520.31 204.44,519.14 210.72,521.06 205.29,522.31" fill="#00dcff"/>
<polygon points="205.29,522.31 210.72,521.06 217.05,522.99 211.63,524.32" fill="#00edff"/>
<polygon points="211.63,524.32 217.05,522.99 223.42,524.94 218.02,526.35" fill="#00ffff"/>
<polygon points="218.02,526.35 223.42,524.94 229.83,526.90 224.45,528.39" fill="#00ffed"/>
<polygon points="224.45,528.39 229.83,526.90 236.29,528.87 230.92,530.45" fill="#00ffdb"/>
<polygon points="230.92,530.45 236.29,528.87 242.78,530.86 237.43,532.52" fill="#00ffc8"/>
<polygon points="237.43,532.52 242.78,530.86 249.33,532.86 243.99,534.60" fill="#00ffb6"/>
<polygon points="243.99,534.60 249.33,532.86 255.92,534.87 250.60,536.70" fill="#00ffa3"/>
<polygon points="250.60,536.70 255.92,534.87 262.55,536.89 257.25,538.81" fill="#00ff91"/>
<polygon points="257.25,538.81 262.55,536.89 269.23,538.94 263.95,540.94" fill="#00ff7f"/>
<polygon points="263.95,540.94 269.23,538.94 275.96,540.99 270.69,543.08" fill="#00ff6c"/>
<polygon points="270.69,543.08 275.96,540.99 282.73,543.06 277.49,545.24" fill="#00ff5a"/>
<polygon points="277.49,545.24 282.73,543.06 289.56,545.14 284.33,547.41" fill="#00ff48"/>
<polygon points="284.33,547.41 289.56,545.14 296.43,547.24 291.21,549.60" fill="#00ff35"/>
<polygon points="167.61,507.89 173.10,507.20 179.12,508.97 173.64,509.73" fill="#004dff"/>
<polygon points="173.64,509.73 179.12,508.97 185.19,510.75 179.72,511.59" fill="#005fff"/>
<polygon points="179.72,511.59 185.19,510.75 191.29,512.54 185.84,513.46" fill="#0071ff"/>
<polygon points="185.84,513.46 191.29,512.54 197.44,514.34 192.00,515.34" fill="#0084ff"/>
<polygon points="192.00,515.34 197.44,514.34 203.62,516.15 198.20,517.24" fill="#0096ff"/>
<polygon points="198.20,517.24 203.62,516.15 209.85,517.98 204.44,519.14" fill="#00a8ff"/>
<polygon points="204.44,519.14 209.85,517.98 216.12,519.82 210.72,521.06" fill="#00baff"/>
<polygon points="210.72,521.06 216.12,519.82 222.43,521.67 217.05,522.99" fill="#00cdff"/>
<polygon points="217.05,522.99 222.43,521.67 228.78,523.54 223.42,524.94" fill="#00dfff"/>
<polygon points="223.42,524.94 228.78,523.54 235.18,525.41 229.83,526.90" fill="#00f1ff"/>
<polygon points="229.83,526.90 235.18,525.41 241.62,527.30 236.29,528.87" fill="#00fffa"/>
<polygon points="236.29,528.87 241.62,527.30 248.10,529.20 242.78,530.86" fill="#00ffe7"/>
<polygon points="242.78,530.86 248.10,529.20 254.63,531.12 249.33,532.86" fill="#00ffd4"/>
<polygon points="249.33,532.86 254.63,531.12 261.20,533.05 255.92,534.87" fill="#00ffc1"/>
<polygon points="255.92,534.87 261.20,533.05 267.82,534.99 262.55,536.89" fill="#00ffae"/>
<polygon points="262.55,536.89 267.82,534.99 274.48,536.94 269.23,538.94" fill="#00ff9b"/>
<polygon points="269.23,538.94 274.48,536.94 281.19,538.91 275.96,540.99" fill="#00ff88"/>
<polygon points="275.96,540.99 281.19,538.91 287.95,540.89 282.73,543.06" fill="#00ff75"/>
<polygon points="282.73,543.06 287.95,540.89 294.75,542.89 289.56,545.14" fill="#00ff62"/>
<polygon points="289.56,545.14 294.75,542.89 301.60,544.90 296.43,547.24" fill="#00ff4e"/>
</g>
<text x="36.60" y="382.90" font-size="7.5" text-anchor="start" fill="#111" font-weight="bold" textLength="69.60" lengthAdjust="spacingAndGlyphs" stroke="#111" stroke-width="0.28" >NIR Hyperthermia (˚C)</text>
<text x="39.20" y="394.50" font-size="7.2" text-anchor="start" fill="#3535ff" textLength="12.33" lengthAdjust="spacingAndGlyphs" stroke="#3535ff" stroke-width="0.18" >47.6</text>
<text x="83.80" y="394.50" font-size="7.2" text-anchor="start" fill="#ff3535" textLength="12.05" lengthAdjust="spacingAndGlyphs" stroke="#ff3535" stroke-width="0.18" >57.1</text>
<linearGradient id="gradc" x1="0" x2="1" y1="0" y2="0"><stop offset="0" stop-color="#0000ff"/><stop offset="0.5" stop-color="#00ee00"/><stop offset="1" stop-color="#ff0000"/></linearGradient>
<rect x="56.00" y="388.10" width="23.4" height="6.2" fill="url(#gradc)" stroke="#222" stroke-width="0.7"/>
<text x="36.60" y="423.00" font-size="7.2" text-anchor="start" fill="#202020" textLength="57.88" lengthAdjust="spacingAndGlyphs" stroke="#202020" stroke-width="0.18" >X1 = B: Cholesterol</text>
<text x="36.60" y="431.50" font-size="7.2" text-anchor="start" fill="#202020" textLength="61.23" lengthAdjust="spacingAndGlyphs" stroke="#202020" stroke-width="0.18" >X2 = C: Egg Lecithin</text>
<text x="36.60" y="449.70" font-size="7.5" text-anchor="start" fill="#111" font-weight="bold" textLength="41.00" lengthAdjust="spacingAndGlyphs" stroke="#111" stroke-width="0.28" >Coded Factor</text>
<text x="36.60" y="457.90" font-size="7.2" text-anchor="start" fill="#202020" textLength="56.28" lengthAdjust="spacingAndGlyphs" stroke="#202020" stroke-width="0.18" >A: Span 60 = 0.000</text>
<text x="322.20" y="387.90" font-size="19.5" text-anchor="middle" fill="#111" font-family="Liberation Serif" textLength="19.70" lengthAdjust="spacingAndGlyphs" >(c)</text>
<text x="262.20" y="678.90" font-size="8.8" text-anchor="start" fill="#222" textLength="50.57" lengthAdjust="spacingAndGlyphs" stroke="#222" stroke-width="0.18" >B: Cholesterol</text>
<text x="59.30" y="688.70" font-size="8.8" text-anchor="start" fill="#222" textLength="54.61" lengthAdjust="spacingAndGlyphs" stroke="#222" stroke-width="0.18" >C: Egg Lecithin</text>
<text x="16.90" y="548.60" font-size="8.2" text-anchor="middle" fill="#1c1c1c" textLength="82.90" lengthAdjust="spacingAndGlyphs" transform="rotate(-90 16.90 548.60)" stroke="#1c1c1c" stroke-width="0.18" >NIR Hyperthermia (˚C)</text>
</g>
<g>
<polygon points="420.30,617.50 546.10,698.00 652.20,606.60 529.00,543.50" fill="#646464" stroke="#222" stroke-width="0.9" stroke-linejoin="round"/>
<clipPath id="clipd"><polygon points="420.30,617.50 546.10,698.00 652.20,606.60 529.00,543.50"/></clipPath>
<g clip-path="url(#clipd)" fill="none" stroke-width="1.7" stroke-linecap="butt">
<path d="M484.00,585.00 Q469.25,615.75 462.30,647.50" stroke="#30f040"/>
<path d="M516.50,604.00 Q507.55,644.35 507.20,676.50" stroke="#30f040"/>
<path d="M551.10,619.00 Q549.85,655.25 553.60,692.50" stroke="#3cee30"/>
<path d="M592.30,580.00 Q585.50,624.20 588.70,662.00" stroke="#78f030"/>
<path d="M622.70,589.00 Q619.50,613.65 621.90,634.50" stroke="#b0f01c"/>
</g>
<line x1="406.00" y1="479.20" x2="420.30" y2="617.50" stroke="#222" stroke-width="0.9" />
<line x1="436.75" y1="462.00" x2="445.06" y2="568.20" stroke="#222" stroke-width="0.9" />
<line x1="563.40" y1="425.05" x2="560.61" y2="529.10" stroke="#222" stroke-width="0.9" />
<line x1="467.50" y1="444.80" x2="473.04" y2="549.99" stroke="#222" stroke-width="0.9" />
<line x1="597.80" y1="439.70" x2="592.22" y2="544.62" stroke="#222" stroke-width="0.9" />
<line x1="498.25" y1="427.60" x2="501.02" y2="531.79" stroke="#222" stroke-width="0.9" />
<line x1="632.20" y1="454.35" x2="623.83" y2="560.15" stroke="#222" stroke-width="0.9" />
<line x1="529.00" y1="410.40" x2="529.00" y2="543.50" stroke="#222" stroke-width="0.9" />
<line x1="666.60" y1="469.00" x2="652.20" y2="606.60" stroke="#222" stroke-width="0.9" />
<line x1="406.00" y1="479.20" x2="529.00" y2="410.40" stroke="#222" stroke-width="0.9" />
<line x1="529.00" y1="410.40" x2="666.60" y2="469.00" stroke="#222" stroke-width="0.9" />
<circle cx="406.00" cy="479.20" r="1.4" fill="#111"/>
<text x="401.60" y="476.60" font-size="8.8" text-anchor="end" fill="#222" textLength="9.10" lengthAdjust="spacingAndGlyphs" stroke="#222" stroke-width="0.18" >60</text>
<line x1="407.85" y1="497.07" x2="529.00" y2="427.60" stroke="#222" stroke-width="0.9" />
<line x1="529.00" y1="427.60" x2="664.74" y2="486.78" stroke="#222" stroke-width="0.9" />
<circle cx="407.85" cy="497.07" r="1.4" fill="#111"/>
<text x="403.45" y="494.47" font-size="8.8" text-anchor="end" fill="#222" textLength="9.10" lengthAdjust="spacingAndGlyphs" stroke="#222" stroke-width="0.18" >58</text>
<line x1="409.70" y1="514.94" x2="529.00" y2="444.79" stroke="#222" stroke-width="0.9" />
<line x1="529.00" y1="444.79" x2="662.88" y2="504.56" stroke="#222" stroke-width="0.9" />
<circle cx="409.70" cy="514.94" r="1.4" fill="#111"/>
<text x="405.30" y="512.34" font-size="8.8" text-anchor="end" fill="#222" textLength="9.10" lengthAdjust="spacingAndGlyphs" stroke="#222" stroke-width="0.18" >56</text>
<line x1="411.54" y1="532.81" x2="529.00" y2="461.99" stroke="#222" stroke-width="0.9" />
<line x1="529.00" y1="461.99" x2="661.02" y2="522.33" stroke="#222" stroke-width="0.9" />
<circle cx="411.54" cy="532.81" r="1.4" fill="#111"/>
<text x="407.14" y="530.21" font-size="8.8" text-anchor="end" fill="#222" textLength="9.10" lengthAdjust="spacingAndGlyphs" stroke="#222" stroke-width="0.18" >54</text>
<line x1="413.39" y1="550.67" x2="529.00" y2="479.19" stroke="#222" stroke-width="0.9" />
<line x1="529.00" y1="479.19" x2="659.16" y2="540.11" stroke="#222" stroke-width="0.9" />
<circle cx="413.39" cy="550.67" r="1.4" fill="#111"/>
<text x="408.99" y="548.07" font-size="8.8" text-anchor="end" fill="#222" textLength="9.10" lengthAdjust="spacingAndGlyphs" stroke="#222" stroke-width="0.18" >52</text>
<line x1="415.24" y1="568.54" x2="529.00" y2="496.38" stroke="#222" stroke-width="0.9" />
<line x1="529.00" y1="496.38" x2="657.30" y2="557.89" stroke="#222" stroke-width="0.9" />
<circle cx="415.24" cy="568.54" r="1.4" fill="#111"/>
<text x="410.84" y="565.94" font-size="8.8" text-anchor="end" fill="#222" textLength="9.10" lengthAdjust="spacingAndGlyphs" stroke="#222" stroke-width="0.18" >50</text>
<line x1="417.09" y1="586.41" x2="529.00" y2="513.58" stroke="#222" stroke-width="0.9" />
<line x1="529.00" y1="513.58" x2="655.44" y2="575.67" stroke="#222" stroke-width="0.9" />
<circle cx="417.09" cy="586.41" r="1.4" fill="#111"/>
<text x="412.69" y="583.81" font-size="8.8" text-anchor="end" fill="#222" textLength="9.10" lengthAdjust="spacingAndGlyphs" stroke="#222" stroke-width="0.18" >48</text>
<line x1="420.30" y1="617.50" x2="546.10" y2="698.00" stroke="#222" stroke-width="0.9" />
<line x1="546.10" y1="698.00" x2="652.20" y2="606.60" stroke="#222" stroke-width="0.9" />
<circle cx="420.30" cy="617.50" r="1.4" fill="#111"/>
<text x="416.10" y="626.90" font-size="8.8" text-anchor="end" fill="#222" stroke="#222" stroke-width="0.18" >1</text>
<circle cx="652.20" cy="606.60" r="1.4" fill="#111"/>
<text x="656.50" y="615.80" font-size="8.8" text-anchor="start" fill="#222" stroke="#222" stroke-width="0.18" >1</text>
<circle cx="451.75" cy="637.62" r="1.4" fill="#111"/>
<text x="447.55" y="647.02" font-size="8.8" text-anchor="end" fill="#222" textLength="11.38" lengthAdjust="spacingAndGlyphs" stroke="#222" stroke-width="0.18" >0.5</text>
<circle cx="625.68" cy="629.45" r="1.4" fill="#111"/>
<text x="629.98" y="638.65" font-size="8.8" text-anchor="start" fill="#222" textLength="11.38" lengthAdjust="spacingAndGlyphs" stroke="#222" stroke-width="0.18" >0.5</text>
<circle cx="483.20" cy="657.75" r="1.4" fill="#111"/>
<text x="479.00" y="667.15" font-size="8.8" text-anchor="end" fill="#222" stroke="#222" stroke-width="0.18" >0</text>
<circle cx="599.15" cy="652.30" r="1.4" fill="#111"/>
<text x="603.45" y="661.50" font-size="8.8" text-anchor="start" fill="#222" stroke="#222" stroke-width="0.18" >0</text>
<circle cx="514.65" cy="677.88" r="1.4" fill="#111"/>
<text x="510.45" y="687.27" font-size="8.8" text-anchor="end" fill="#222" textLength="14.10" lengthAdjust="spacingAndGlyphs" stroke="#222" stroke-width="0.18" >-0.5</text>
<circle cx="572.62" cy="675.15" r="1.4" fill="#111"/>
<text x="576.92" y="684.35" font-size="8.8" text-anchor="start" fill="#222" textLength="14.10" lengthAdjust="spacingAndGlyphs" stroke="#222" stroke-width="0.18" >-0.5</text>
<circle cx="546.10" cy="698.00" r="1.4" fill="#111"/>
<text x="541.90" y="707.40" font-size="8.8" text-anchor="end" fill="#222" textLength="7.28" lengthAdjust="spacingAndGlyphs" stroke="#222" stroke-width="0.18" >-1</text>
<circle cx="546.10" cy="698.00" r="1.4" fill="#111"/>
<text x="550.40" y="707.20" font-size="8.8" text-anchor="start" fill="#222" textLength="7.28" lengthAdjust="spacingAndGlyphs" stroke="#222" stroke-width="0.18" >-1</text>
<g stroke="#0a0a0a" stroke-width="0.5" stroke-linejoin="round">
<polygon points="414.10,558.50 420.25,554.32 426.43,557.39 420.28,561.63" fill="#00ff6b"/>
<polygon points="420.28,561.63 426.43,557.39 432.64,560.47 426.50,564.77" fill="#00ff62"/>
<polygon points="426.50,564.77 432.64,560.47 438.91,563.58 432.77,567.95" fill="#00ff58"/>
<polygon points="432.77,567.95 438.91,563.58 445.21,566.71 439.08,571.14" fill="#00ff4e"/>
<polygon points="439.08,571.14 445.21,566.71 451.56,569.87 445.43,574.35" fill="#00ff44"/>
<polygon points="445.43,574.35 451.56,569.87 457.96,573.04 451.83,577.59" fill="#00ff3a"/>
<polygon points="451.83,577.59 457.96,573.04 464.40,576.24 458.28,580.86" fill="#00ff31"/>
<polygon points="458.28,580.86 464.40,576.24 470.89,579.46 464.77,584.14" fill="#00ff27"/>
<polygon points="464.77,584.14 470.89,579.46 477.42,582.71 471.31,587.45" fill="#00ff1d"/>
<polygon points="471.31,587.45 477.42,582.71 484.01,585.97 477.90,590.78" fill="#00ff13"/>
<polygon points="477.90,590.78 484.01,585.97 490.64,589.26 484.53,594.14" fill="#00ff0a"/>
<polygon points="484.53,594.14 490.64,589.26 497.31,592.58 491.22,597.53" fill="#00ff00"/>
<polygon points="491.22,597.53 497.31,592.58 504.04,595.92 497.95,600.93" fill="#08ff00"/>
<polygon points="497.95,600.93 504.04,595.92 510.82,599.28 504.73,604.36" fill="#10ff00"/>
<polygon points="504.73,604.36 510.82,599.28 517.64,602.67 511.57,607.82" fill="#18ff00"/>
<polygon points="511.57,607.82 517.64,602.67 524.52,606.09 518.45,611.31" fill="#20ff00"/>
<polygon points="518.45,611.31 524.52,606.09 531.45,609.53 525.38,614.81" fill="#28ff00"/>
<polygon points="525.38,614.81 531.45,609.53 538.43,612.99 532.37,618.35" fill="#30ff00"/>
<polygon points="532.37,618.35 538.43,612.99 545.46,616.48 539.41,621.91" fill="#38ff00"/>
<polygon points="539.41,621.91 545.46,616.48 552.54,620.00 546.50,625.50" fill="#40ff00"/>
<polygon points="420.25,554.32 426.36,550.17 432.53,553.17 426.43,557.39" fill="#00ff69"/>
<polygon points="426.43,557.39 432.53,553.17 438.75,556.20 432.64,560.47" fill="#00ff5f"/>
<polygon points="432.64,560.47 438.75,556.20 445.00,559.25 438.91,563.58" fill="#00ff55"/>
<polygon points="438.91,563.58 445.00,559.25 451.31,562.32 445.21,566.71" fill="#00ff4b"/>
<polygon points="445.21,566.71 451.31,562.32 457.65,565.41 451.56,569.87" fill="#00ff41"/>
<polygon points="451.56,569.87 457.65,565.41 464.04,568.52 457.96,573.04" fill="#00ff37"/>
<polygon points="457.96,573.04 464.04,568.52 470.48,571.66 464.40,576.24" fill="#00ff2d"/>
<polygon points="464.40,576.24 470.48,571.66 476.96,574.81 470.89,579.46" fill="#00ff22"/>
<polygon points="470.89,579.46 476.96,574.81 483.49,577.99 477.42,582.71" fill="#00ff18"/>
<polygon points="477.42,582.71 483.49,577.99 490.07,581.20 484.01,585.97" fill="#00ff0e"/>
<polygon points="484.01,585.97 490.07,581.20 496.69,584.42 490.64,589.26" fill="#00ff04"/>
<polygon points="490.64,589.26 496.69,584.42 503.37,587.67 497.31,592.58" fill="#05ff00"/>
<polygon points="497.31,592.58 503.37,587.67 510.09,590.94 504.04,595.92" fill="#0dff00"/>
<polygon points="504.04,595.92 510.09,590.94 516.86,594.24 510.82,599.28" fill="#16ff00"/>
<polygon points="510.82,599.28 516.86,594.24 523.68,597.56 517.64,602.67" fill="#1eff00"/>
<polygon points="517.64,602.67 523.68,597.56 530.55,600.91 524.52,606.09" fill="#26ff00"/>
<polygon points="524.52,606.09 530.55,600.91 537.47,604.28 531.45,609.53" fill="#2fff00"/>
<polygon points="531.45,609.53 537.47,604.28 544.44,607.67 538.43,612.99" fill="#37ff00"/>
<polygon points="538.43,612.99 544.44,607.67 551.46,611.09 545.46,616.48" fill="#3fff00"/>
<polygon points="545.46,616.48 551.46,611.09 558.54,614.54 552.54,620.00" fill="#48ff00"/>
<polygon points="426.36,550.17 432.43,546.05 438.60,548.99 432.53,553.17" fill="#00ff67"/>
<polygon points="432.53,553.17 438.60,548.99 444.81,551.96 438.75,556.20" fill="#00ff5d"/>
<polygon points="438.75,556.20 444.81,551.96 451.06,554.95 445.00,559.25" fill="#00ff52"/>
<polygon points="445.00,559.25 451.06,554.95 457.36,557.95 451.31,562.32" fill="#00ff48"/>
<polygon points="451.31,562.32 457.36,557.95 463.70,560.98 457.65,565.41" fill="#00ff3d"/>
<polygon points="457.65,565.41 463.70,560.98 470.09,564.03 464.04,568.52" fill="#00ff33"/>
<polygon points="464.04,568.52 470.09,564.03 476.52,567.10 470.48,571.66" fill="#00ff28"/>
<polygon points="470.48,571.66 476.52,567.10 483.00,570.20 476.96,574.81" fill="#00ff1e"/>
<polygon points="476.96,574.81 483.00,570.20 489.52,573.31 483.49,577.99" fill="#00ff13"/>
<polygon points="483.49,577.99 489.52,573.31 496.09,576.45 490.07,581.20" fill="#00ff09"/>
<polygon points="490.07,581.20 496.09,576.45 502.71,579.61 496.69,584.42" fill="#01ff00"/>
<polygon points="496.69,584.42 502.71,579.61 509.38,582.80 503.37,587.67" fill="#0aff00"/>
<polygon points="503.37,587.67 509.38,582.80 516.09,586.00 510.09,590.94" fill="#13ff00"/>
<polygon points="510.09,590.94 516.09,586.00 522.85,589.23 516.86,594.24" fill="#1bff00"/>
<polygon points="516.86,594.24 522.85,589.23 529.67,592.49 523.68,597.56" fill="#24ff00"/>
<polygon points="523.68,597.56 529.67,592.49 536.53,595.77 530.55,600.91" fill="#2cff00"/>
<polygon points="530.55,600.91 536.53,595.77 543.44,599.07 537.47,604.28" fill="#35ff00"/>
<polygon points="537.47,604.28 543.44,599.07 550.41,602.39 544.44,607.67" fill="#3eff00"/>
<polygon points="544.44,607.67 550.41,602.39 557.42,605.74 551.46,611.09" fill="#46ff00"/>
<polygon points="551.46,611.09 557.42,605.74 564.49,609.12 558.54,614.54" fill="#4fff00"/>
<polygon points="432.43,546.05 438.45,541.95 444.62,544.84 438.60,548.99" fill="#00ff65"/>
<polygon points="438.60,548.99 444.62,544.84 450.82,547.75 444.81,551.96" fill="#00ff5a"/>
<polygon points="444.81,551.96 450.82,547.75 457.07,550.67 451.06,554.95" fill="#00ff4f"/>
<polygon points="451.06,554.95 457.07,550.67 463.37,553.62 457.36,557.95" fill="#00ff45"/>
<polygon points="457.36,557.95 463.37,553.62 469.70,556.59 463.70,560.98" fill="#00ff3a"/>
<polygon points="463.70,560.98 469.70,556.59 476.08,559.58 470.09,564.03" fill="#00ff2f"/>
<polygon points="470.09,564.03 476.08,559.58 482.51,562.59 476.52,567.10" fill="#00ff24"/>
<polygon points="476.52,567.10 482.51,562.59 488.98,565.62 483.00,570.20" fill="#00ff19"/>
<polygon points="483.00,570.20 488.98,565.62 495.50,568.67 489.52,573.31" fill="#00ff0e"/>
<polygon points="489.52,573.31 495.50,568.67 502.07,571.74 496.09,576.45" fill="#00ff04"/>
<polygon points="496.09,576.45 502.07,571.74 508.68,574.84 502.71,579.61" fill="#06ff00"/>
<polygon points="502.71,579.61 508.68,574.84 515.34,577.96 509.38,582.80" fill="#0fff00"/>
<polygon points="509.38,582.80 515.34,577.96 522.05,581.10 516.09,586.00" fill="#18ff00"/>
<polygon points="516.09,586.00 522.05,581.10 528.81,584.26 522.85,589.23" fill="#21ff00"/>
<polygon points="522.85,589.23 528.81,584.26 535.61,587.45 529.67,592.49" fill="#2aff00"/>
<polygon points="529.67,592.49 535.61,587.45 542.47,590.66 536.53,595.77" fill="#32ff00"/>
<polygon points="536.53,595.77 542.47,590.66 549.37,593.90 543.44,599.07" fill="#3bff00"/>
<polygon points="543.44,599.07 549.37,593.90 556.33,597.15 550.41,602.39" fill="#44ff00"/>
<polygon points="550.41,602.39 556.33,597.15 563.34,600.44 557.42,605.74" fill="#4dff00"/>
<polygon points="557.42,605.74 563.34,600.44 570.40,603.74 564.49,609.12" fill="#56ff00"/>
<polygon points="438.45,541.95 444.44,537.89 450.60,540.72 444.62,544.84" fill="#00ff63"/>
<polygon points="444.62,544.84 450.60,540.72 456.80,543.56 450.82,547.75" fill="#00ff58"/>
<polygon points="450.82,547.75 456.80,543.56 463.04,546.43 457.07,550.67" fill="#00ff4d"/>
<polygon points="457.07,550.67 463.04,546.43 469.33,549.32 463.37,553.62" fill="#00ff41"/>
<polygon points="463.37,553.62 469.33,549.32 475.66,552.22 469.70,556.59" fill="#00ff36"/>
<polygon points="469.70,556.59 475.66,552.22 482.04,555.15 476.08,559.58" fill="#00ff2b"/>
<polygon points="476.08,559.58 482.04,555.15 488.46,558.10 482.51,562.59" fill="#00ff20"/>
<polygon points="482.51,562.59 488.46,558.10 494.93,561.07 488.98,565.62" fill="#00ff15"/>
<polygon points="488.98,565.62 494.93,561.07 501.44,564.06 495.50,568.67" fill="#00ff0a"/>
<polygon points="495.50,568.67 501.44,564.06 508.00,567.07 502.07,571.74" fill="#01ff00"/>
<polygon points="502.07,571.74 508.00,567.07 514.61,570.10 508.68,574.84" fill="#0bff00"/>
<polygon points="508.68,574.84 514.61,570.10 521.26,573.15 515.34,577.96" fill="#14ff00"/>
<polygon points="515.34,577.96 521.26,573.15 527.96,576.23 522.05,581.10" fill="#1dff00"/>
<polygon points="522.05,581.10 527.96,576.23 534.71,579.33 528.81,584.26" fill="#26ff00"/>
<polygon points="528.81,584.26 534.71,579.33 541.51,582.45 535.61,587.45" fill="#2fff00"/>
<polygon points="535.61,587.45 541.51,582.45 548.36,585.59 542.47,590.66" fill="#39ff00"/>
<polygon points="542.47,590.66 548.36,585.59 555.26,588.76 549.37,593.90" fill="#42ff00"/>
<polygon points="549.37,593.90 555.26,588.76 562.21,591.95 556.33,597.15" fill="#4bff00"/>
<polygon points="556.33,597.15 562.21,591.95 569.21,595.17 563.34,600.44" fill="#54ff00"/>
<polygon points="563.34,600.44 569.21,595.17 576.26,598.40 570.40,603.74" fill="#5dff00"/>
<polygon points="444.44,537.89 450.38,533.85 456.54,536.62 450.60,540.72" fill="#00ff61"/>
<polygon points="450.60,540.72 456.54,536.62 462.73,539.41 456.80,543.56" fill="#00ff55"/>
<polygon points="456.80,543.56 462.73,539.41 468.97,542.22 463.04,546.43" fill="#00ff4a"/>
<polygon points="463.04,546.43 468.97,542.22 475.26,545.04 469.33,549.32" fill="#00ff3e"/>
<polygon points="469.33,549.32 475.26,545.04 481.58,547.89 475.66,552.22" fill="#00ff33"/>
<polygon points="475.66,552.22 481.58,547.89 487.96,550.76 482.04,555.15" fill="#00ff27"/>
<polygon points="482.04,555.15 487.96,550.76 494.37,553.64 488.46,558.10" fill="#00ff1c"/>
<polygon points="488.46,558.10 494.37,553.64 500.83,556.55 494.93,561.07" fill="#00ff10"/>
<polygon points="494.93,561.07 500.83,556.55 507.34,559.48 501.44,564.06" fill="#00ff05"/>
<polygon points="501.44,564.06 507.34,559.48 513.90,562.43 508.00,567.07" fill="#06ff00"/>
<polygon points="508.00,567.07 513.90,562.43 520.50,565.39 514.61,570.10" fill="#0fff00"/>
<polygon points="514.61,570.10 520.50,565.39 527.14,568.39 521.26,573.15" fill="#19ff00"/>
<polygon points="521.26,573.15 527.14,568.39 533.84,571.40 527.96,576.23" fill="#22ff00"/>
<polygon points="527.96,576.23 533.84,571.40 540.58,574.43 534.71,579.33" fill="#2cff00"/>
<polygon points="534.71,579.33 540.58,574.43 547.37,577.49 541.51,582.45" fill="#35ff00"/>
<polygon points="541.51,582.45 547.37,577.49 554.21,580.56 548.36,585.59" fill="#3fff00"/>
<polygon points="548.36,585.59 554.21,580.56 561.11,583.66 555.26,588.76" fill="#48ff00"/>
<polygon points="555.26,588.76 561.11,583.66 568.05,586.79 562.21,591.95" fill="#52ff00"/>
<polygon points="562.21,591.95 568.05,586.79 575.04,589.93 569.21,595.17" fill="#5bff00"/>
<polygon points="569.21,595.17 575.04,589.93 582.08,593.10 576.26,598.40" fill="#65ff00"/>
<polygon points="450.38,533.85 456.28,529.84 462.43,532.55 456.54,536.62" fill="#00ff5f"/>
<polygon points="456.54,536.62 462.43,532.55 468.63,535.28 462.73,539.41" fill="#00ff53"/>
<polygon points="462.73,539.41 468.63,535.28 474.86,538.03 468.97,542.22" fill="#00ff47"/>
<polygon points="468.97,542.22 474.86,538.03 481.14,540.80 475.26,545.04" fill="#00ff3b"/>
<polygon points="475.26,545.04 481.14,540.80 487.46,543.59 481.58,547.89" fill="#00ff2f"/>
<polygon points="481.58,547.89 487.46,543.59 493.83,546.39 487.96,550.76" fill="#00ff23"/>
<polygon points="487.96,550.76 493.83,546.39 500.24,549.22 494.37,553.64" fill="#00ff17"/>
<polygon points="494.37,553.64 500.24,549.22 506.70,552.06 500.83,556.55" fill="#00ff0c"/>
<polygon points="500.83,556.55 506.70,552.06 513.20,554.93 507.34,559.48" fill="#00ff00"/>
<polygon points="507.34,559.48 513.20,554.93 519.75,557.82 513.90,562.43" fill="#0aff00"/>
<polygon points="513.90,562.43 519.75,557.82 526.34,560.72 520.50,565.39" fill="#14ff00"/>
<polygon points="520.50,565.39 526.34,560.72 532.98,563.65 527.14,568.39" fill="#1eff00"/>
<polygon points="527.14,568.39 532.98,563.65 539.67,566.60 533.84,571.40" fill="#27ff00"/>
<polygon points="533.84,571.40 539.67,566.60 546.41,569.57 540.58,574.43" fill="#31ff00"/>
<polygon points="540.58,574.43 546.41,569.57 553.19,572.56 547.37,577.49" fill="#3bff00"/>
<polygon points="547.37,577.49 553.19,572.56 560.02,575.57 554.21,580.56" fill="#45ff00"/>
<polygon points="554.21,580.56 560.02,575.57 566.91,578.61 561.11,583.66" fill="#4eff00"/>
<polygon points="561.11,583.66 566.91,578.61 573.84,581.66 568.05,586.79" fill="#58ff00"/>
<polygon points="568.05,586.79 573.84,581.66 580.83,584.74 575.04,589.93" fill="#62ff00"/>
<polygon points="575.04,589.93 580.83,584.74 587.86,587.84 582.08,593.10" fill="#6cff00"/>
<polygon points="456.28,529.84 462.15,525.86 468.29,528.51 462.43,532.55" fill="#00ff5d"/>
<polygon points="462.43,532.55 468.29,528.51 474.48,531.18 468.63,535.28" fill="#00ff50"/>
<polygon points="468.63,535.28 474.48,531.18 480.71,533.87 474.86,538.03" fill="#00ff44"/>
<polygon points="474.86,538.03 480.71,533.87 486.98,536.58 481.14,540.80" fill="#00ff38"/>
<polygon points="481.14,540.80 486.98,536.58 493.30,539.31 487.46,543.59" fill="#00ff2c"/>
<polygon points="487.46,543.59 493.30,539.31 499.66,542.06 493.83,546.39" fill="#00ff20"/>
<polygon points="493.83,546.39 499.66,542.06 506.07,544.82 500.24,549.22" fill="#00ff13"/>
<polygon points="500.24,549.22 506.07,544.82 512.52,547.61 506.70,552.06" fill="#00ff07"/>
<polygon points="506.70,552.06 512.52,547.61 519.01,550.41 513.20,554.93" fill="#04ff00"/>
<polygon points="513.20,554.93 519.01,550.41 525.56,553.24 519.75,557.82" fill="#0eff00"/>
<polygon points="519.75,557.82 525.56,553.24 532.14,556.08 526.34,560.72" fill="#18ff00"/>
<polygon points="526.34,560.72 532.14,556.08 538.78,558.95 532.98,563.65" fill="#22ff00"/>
<polygon points="532.98,563.65 538.78,558.95 545.46,561.83 539.67,566.60" fill="#2dff00"/>
<polygon points="539.67,566.60 545.46,561.83 552.19,564.74 546.41,569.57" fill="#37ff00"/>
<polygon points="546.41,569.57 552.19,564.74 558.97,567.67 553.19,572.56" fill="#41ff00"/>
<polygon points="553.19,572.56 558.97,567.67 565.79,570.61 560.02,575.57" fill="#4bff00"/>
<polygon points="560.02,575.57 565.79,570.61 572.67,573.58 566.91,578.61" fill="#55ff00"/>
<polygon points="566.91,578.61 572.67,573.58 579.59,576.57 573.84,581.66" fill="#5fff00"/>
<polygon points="573.84,581.66 579.59,576.57 586.57,579.58 580.83,584.74" fill="#69ff00"/>
<polygon points="580.83,584.74 586.57,579.58 593.60,582.62 587.86,587.84" fill="#73ff00"/>
<polygon points="462.15,525.86 467.97,521.90 474.11,524.50 468.29,528.51" fill="#00ff5b"/>
<polygon points="468.29,528.51 474.11,524.50 480.29,527.11 474.48,531.18" fill="#00ff4e"/>
<polygon points="474.48,531.18 480.29,527.11 486.52,529.75 480.71,533.87" fill="#00ff41"/>
<polygon points="480.71,533.87 486.52,529.75 492.79,532.40 486.98,536.58" fill="#00ff35"/>
<polygon points="486.98,536.58 492.79,532.40 499.10,535.07 493.30,539.31" fill="#00ff28"/>
<polygon points="493.30,539.31 499.10,535.07 505.46,537.75 499.66,542.06" fill="#00ff1c"/>
<polygon points="499.66,542.06 505.46,537.75 511.85,540.46 506.07,544.82" fill="#00ff0f"/>
<polygon points="506.07,544.82 511.85,540.46 518.30,543.19 512.52,547.61" fill="#00ff03"/>
<polygon points="512.52,547.61 518.30,543.19 524.79,545.93 519.01,550.41" fill="#08ff00"/>
<polygon points="519.01,550.41 524.79,545.93 531.32,548.69 525.56,553.24" fill="#13ff00"/>
<polygon points="525.56,553.24 531.32,548.69 537.91,551.48 532.14,556.08" fill="#1dff00"/>
<polygon points="532.14,556.08 537.91,551.48 544.53,554.28 538.78,558.95" fill="#27ff00"/>
<polygon points="538.78,558.95 544.53,554.28 551.21,557.10 545.46,561.83" fill="#32ff00"/>
<polygon points="545.46,561.83 551.21,557.10 557.93,559.94 552.19,564.74" fill="#3cff00"/>
<polygon points="552.19,564.74 557.93,559.94 564.70,562.81 558.97,567.67" fill="#46ff00"/>
<polygon points="558.97,567.67 564.70,562.81 571.52,565.69 565.79,570.61" fill="#51ff00"/>
<polygon points="565.79,570.61 571.52,565.69 578.39,568.59 572.67,573.58" fill="#5bff00"/>
<polygon points="572.67,573.58 578.39,568.59 585.31,571.52 579.59,576.57" fill="#65ff00"/>
<polygon points="579.59,576.57 585.31,571.52 592.27,574.47 586.57,579.58" fill="#70ff00"/>
<polygon points="586.57,579.58 592.27,574.47 599.29,577.43 593.60,582.62" fill="#7aff00"/>
<polygon points="467.97,521.90 473.75,517.97 479.89,520.51 474.11,524.50" fill="#00ff58"/>
<polygon points="474.11,524.50 479.89,520.51 486.07,523.07 480.29,527.11" fill="#00ff4c"/>
<polygon points="480.29,527.11 486.07,523.07 492.29,525.65 486.52,529.75" fill="#00ff3f"/>
<polygon points="486.52,529.75 492.29,525.65 498.55,528.24 492.79,532.40" fill="#00ff32"/>
<polygon points="492.79,532.40 498.55,528.24 504.86,530.85 499.10,535.07" fill="#00ff25"/>
<polygon points="499.10,535.07 504.86,530.85 511.21,533.48 505.46,537.75" fill="#00ff18"/>
<polygon points="505.46,537.75 511.21,533.48 517.60,536.13 511.85,540.46" fill="#00ff0b"/>
<polygon points="511.85,540.46 517.60,536.13 524.04,538.79 518.30,543.19" fill="#02ff00"/>
<polygon points="518.30,543.19 524.04,538.79 530.52,541.48 524.79,545.93" fill="#0cff00"/>
<polygon points="524.79,545.93 530.52,541.48 537.05,544.18 531.32,548.69" fill="#17ff00"/>
<polygon points="531.32,548.69 537.05,544.18 543.63,546.90 537.91,551.48" fill="#22ff00"/>
<polygon points="537.91,551.48 543.63,546.90 550.25,549.64 544.53,554.28" fill="#2cff00"/>
<polygon points="544.53,554.28 550.25,549.64 556.92,552.40 551.21,557.10" fill="#37ff00"/>
<polygon points="551.21,557.10 556.92,552.40 563.63,555.18 557.93,559.94" fill="#42ff00"/>
<polygon points="557.93,559.94 563.63,555.18 570.39,557.98 564.70,562.81" fill="#4cff00"/>
<polygon points="564.70,562.81 570.39,557.98 577.21,560.80 571.52,565.69" fill="#57ff00"/>
<polygon points="571.52,565.69 577.21,560.80 584.07,563.64 578.39,568.59" fill="#61ff00"/>
<polygon points="578.39,568.59 584.07,563.64 590.98,566.50 585.31,571.52" fill="#6cff00"/>
<polygon points="585.31,571.52 590.98,566.50 597.94,569.39 592.27,574.47" fill="#77ff00"/>
<polygon points="592.27,574.47 597.94,569.39 604.95,572.29 599.29,577.43" fill="#81ff00"/>
<polygon points="473.75,517.97 479.50,514.07 485.63,516.56 479.89,520.51" fill="#00ff56"/>
<polygon points="479.89,520.51 485.63,516.56 491.80,519.06 486.07,523.07" fill="#00ff49"/>
<polygon points="486.07,523.07 491.80,519.06 498.02,521.58 492.29,525.65" fill="#00ff3c"/>
<polygon points="492.29,525.65 498.02,521.58 504.27,524.11 498.55,528.24" fill="#00ff2f"/>
<polygon points="498.55,528.24 504.27,524.11 510.58,526.67 504.86,530.85" fill="#00ff21"/>
<polygon points="504.86,530.85 510.58,526.67 516.92,529.24 511.21,533.48" fill="#00ff14"/>
<polygon points="511.21,533.48 516.92,529.24 523.31,531.83 517.60,536.13" fill="#00ff07"/>
<polygon points="517.60,536.13 523.31,531.83 529.74,534.43 524.04,538.79" fill="#05ff00"/>
<polygon points="524.04,538.79 529.74,534.43 536.22,537.06 530.52,541.48" fill="#10ff00"/>
<polygon points="530.52,541.48 536.22,537.06 542.74,539.70 537.05,544.18" fill="#1bff00"/>
<polygon points="537.05,544.18 542.74,539.70 549.31,542.36 543.63,546.90" fill="#26ff00"/>
<polygon points="543.63,546.90 549.31,542.36 555.92,545.04 550.25,549.64" fill="#31ff00"/>
<polygon points="550.25,549.64 555.92,545.04 562.58,547.74 556.92,552.40" fill="#3cff00"/>
<polygon points="556.92,552.40 562.58,547.74 569.29,550.46 563.63,555.18" fill="#47ff00"/>
<polygon points="563.63,555.18 569.29,550.46 576.05,553.19 570.39,557.98" fill="#52ff00"/>
<polygon points="570.39,557.98 576.05,553.19 582.85,555.95 577.21,560.80" fill="#5dff00"/>
<polygon points="577.21,560.80 582.85,555.95 589.70,558.73 584.07,563.64" fill="#68ff00"/>
<polygon points="584.07,563.64 589.70,558.73 596.61,561.52 590.98,566.50" fill="#73ff00"/>
<polygon points="590.98,566.50 596.61,561.52 603.56,564.34 597.94,569.39" fill="#7eff00"/>
<polygon points="597.94,569.39 603.56,564.34 610.56,567.18 604.95,572.29" fill="#89ff00"/>
<polygon points="479.50,514.07 485.20,510.20 491.33,512.63 485.63,516.56" fill="#00ff54"/>
<polygon points="485.63,516.56 491.33,512.63 497.50,515.07 491.80,519.06" fill="#00ff47"/>
<polygon points="491.80,519.06 497.50,515.07 503.71,517.53 498.02,521.58" fill="#00ff39"/>
<polygon points="498.02,521.58 503.71,517.53 509.96,520.01 504.27,524.11" fill="#00ff2b"/>
<polygon points="504.27,524.11 509.96,520.01 516.26,522.51 510.58,526.67" fill="#00ff1e"/>
<polygon points="510.58,526.67 516.26,522.51 522.59,525.02 516.92,529.24" fill="#00ff10"/>
<polygon points="516.92,529.24 522.59,525.02 528.98,527.55 523.31,531.83" fill="#00ff02"/>
<polygon points="523.31,531.83 528.98,527.55 535.40,530.10 529.74,534.43" fill="#09ff00"/>
<polygon points="529.74,534.43 535.40,530.10 541.87,532.67 536.22,537.06" fill="#14ff00"/>
<polygon points="536.22,537.06 541.87,532.67 548.39,535.25 542.74,539.70" fill="#20ff00"/>
<polygon points="542.74,539.70 548.39,535.25 554.95,537.85 549.31,542.36" fill="#2bff00"/>
<polygon points="549.31,542.36 554.95,537.85 561.56,540.47 555.92,545.04" fill="#36ff00"/>
<polygon points="555.92,545.04 561.56,540.47 568.21,543.11 562.58,547.74" fill="#41ff00"/>
<polygon points="562.58,547.74 568.21,543.11 574.91,545.76 569.29,550.46" fill="#4dff00"/>
<polygon points="569.29,550.46 574.91,545.76 581.66,548.44 576.05,553.19" fill="#58ff00"/>
<polygon points="576.05,553.19 581.66,548.44 588.46,551.13 582.85,555.95" fill="#63ff00"/>
<polygon points="582.85,555.95 588.46,551.13 595.30,553.85 589.70,558.73" fill="#6eff00"/>
<polygon points="589.70,558.73 595.30,553.85 602.19,556.58 596.61,561.52" fill="#79ff00"/>
<polygon points="596.61,561.52 602.19,556.58 609.14,559.33 603.56,564.34" fill="#85ff00"/>
<polygon points="603.56,564.34 609.14,559.33 616.13,562.10 610.56,567.18" fill="#90ff00"/>
<polygon points="485.20,510.20 490.87,506.35 496.99,508.72 491.33,512.63" fill="#00ff52"/>
<polygon points="491.33,512.63 496.99,508.72 503.15,511.11 497.50,515.07" fill="#00ff44"/>
<polygon points="497.50,515.07 503.15,511.11 509.36,513.52 503.71,517.53" fill="#00ff36"/>
<polygon points="503.71,517.53 509.36,513.52 515.61,515.94 509.96,520.01" fill="#00ff28"/>
<polygon points="509.96,520.01 515.61,515.94 521.90,518.38 516.26,522.51" fill="#00ff1a"/>
<polygon points="516.26,522.51 521.90,518.38 528.23,520.83 522.59,525.02" fill="#00ff0c"/>
<polygon points="522.59,525.02 528.23,520.83 534.61,523.31 528.98,527.55" fill="#01ff00"/>
<polygon points="528.98,527.55 534.61,523.31 541.03,525.80 535.40,530.10" fill="#0dff00"/>
<polygon points="535.40,530.10 541.03,525.80 547.49,528.30 541.87,532.67" fill="#18ff00"/>
<polygon points="541.87,532.67 547.49,528.30 554.00,530.83 548.39,535.25" fill="#24ff00"/>
<polygon points="548.39,535.25 554.00,530.83 560.55,533.37 554.95,537.85" fill="#2fff00"/>
<polygon points="554.95,537.85 560.55,533.37 567.15,535.93 561.56,540.47" fill="#3bff00"/>
<polygon points="561.56,540.47 567.15,535.93 573.80,538.51 568.21,543.11" fill="#46ff00"/>
<polygon points="568.21,543.11 573.80,538.51 580.49,541.10 574.91,545.76" fill="#52ff00"/>
<polygon points="574.91,545.76 580.49,541.10 587.23,543.72 581.66,548.44" fill="#5eff00"/>
<polygon points="581.66,548.44 587.23,543.72 594.02,546.35 588.46,551.13" fill="#69ff00"/>
<polygon points="588.46,551.13 594.02,546.35 600.86,549.00 595.30,553.85" fill="#75ff00"/>
<polygon points="595.30,553.85 600.86,549.00 607.74,551.67 602.19,556.58" fill="#80ff00"/>
<polygon points="602.19,556.58 607.74,551.67 614.68,554.36 609.14,559.33" fill="#8cff00"/>
<polygon points="609.14,559.33 614.68,554.36 621.66,557.07 616.13,562.10" fill="#97ff00"/>
<polygon points="490.87,506.35 496.50,502.52 502.61,504.84 496.99,508.72" fill="#00ff50"/>
<polygon points="496.99,508.72 502.61,504.84 508.77,507.18 503.15,511.11" fill="#00ff42"/>
<polygon points="503.15,511.11 508.77,507.18 514.97,509.53 509.36,513.52" fill="#00ff33"/>
<polygon points="509.36,513.52 514.97,509.53 521.21,511.89 515.61,515.94" fill="#00ff25"/>
<polygon points="515.61,515.94 521.21,511.89 527.50,514.28 521.90,518.38" fill="#00ff17"/>
<polygon points="521.90,518.38 527.50,514.28 533.83,516.68 528.23,520.83" fill="#00ff08"/>
<polygon points="528.23,520.83 533.83,516.68 540.20,519.09 534.61,523.31" fill="#05ff00"/>
<polygon points="534.61,523.31 540.20,519.09 546.61,521.52 541.03,525.80" fill="#11ff00"/>
<polygon points="541.03,525.80 546.61,521.52 553.07,523.97 547.49,528.30" fill="#1cff00"/>
<polygon points="547.49,528.30 553.07,523.97 559.57,526.44 554.00,530.83" fill="#28ff00"/>
<polygon points="554.00,530.83 559.57,526.44 566.12,528.92 560.55,533.37" fill="#34ff00"/>
<polygon points="560.55,533.37 566.12,528.92 572.71,531.42 567.15,535.93" fill="#40ff00"/>
<polygon points="567.15,535.93 572.71,531.42 579.35,533.94 573.80,538.51" fill="#4cff00"/>
<polygon points="573.80,538.51 579.35,533.94 586.04,536.48 580.49,541.10" fill="#57ff00"/>
<polygon points="580.49,541.10 586.04,536.48 592.77,539.03 587.23,543.72" fill="#63ff00"/>
<polygon points="587.23,543.72 592.77,539.03 599.55,541.60 594.02,546.35" fill="#6fff00"/>
<polygon points="594.02,546.35 599.55,541.60 606.38,544.19 600.86,549.00" fill="#7bff00"/>
<polygon points="600.86,549.00 606.38,544.19 613.25,546.80 607.74,551.67" fill="#87ff00"/>
<polygon points="607.74,551.67 613.25,546.80 620.18,549.42 614.68,554.36" fill="#93ff00"/>
<polygon points="614.68,554.36 620.18,549.42 627.15,552.07 621.66,557.07" fill="#9eff00"/>
<polygon points="496.50,502.52 502.09,498.72 508.20,500.99 502.61,504.84" fill="#00ff4e"/>
<polygon points="502.61,504.84 508.20,500.99 514.35,503.27 508.77,507.18" fill="#00ff3f"/>
<polygon points="508.77,507.18 514.35,503.27 520.55,505.57 514.97,509.53" fill="#00ff31"/>
<polygon points="514.97,509.53 520.55,505.57 526.79,507.88 521.21,511.89" fill="#00ff22"/>
<polygon points="521.21,511.89 526.79,507.88 533.06,510.20 527.50,514.28" fill="#00ff13"/>
<polygon points="527.50,514.28 533.06,510.20 539.38,512.55 533.83,516.68" fill="#00ff05"/>
<polygon points="533.83,516.68 539.38,512.55 545.75,514.91 540.20,519.09" fill="#08ff00"/>
<polygon points="540.20,519.09 545.75,514.91 552.16,517.28 546.61,521.52" fill="#14ff00"/>
<polygon points="546.61,521.52 552.16,517.28 558.61,519.67 553.07,523.97" fill="#21ff00"/>
<polygon points="553.07,523.97 558.61,519.67 565.10,522.08 559.57,526.44" fill="#2dff00"/>
<polygon points="559.57,526.44 565.10,522.08 571.64,524.51 566.12,528.92" fill="#39ff00"/>
<polygon points="566.12,528.92 571.64,524.51 578.23,526.95 572.71,531.42" fill="#45ff00"/>
<polygon points="572.71,531.42 578.23,526.95 584.86,529.40 579.35,533.94" fill="#51ff00"/>
<polygon points="579.35,533.94 584.86,529.40 591.54,531.88 586.04,536.48" fill="#5dff00"/>
<polygon points="586.04,536.48 591.54,531.88 598.26,534.37 592.77,539.03" fill="#69ff00"/>
<polygon points="592.77,539.03 598.26,534.37 605.04,536.88 599.55,541.60" fill="#75ff00"/>
<polygon points="599.55,541.60 605.04,536.88 611.86,539.41 606.38,544.19" fill="#81ff00"/>
<polygon points="606.38,544.19 611.86,539.41 618.72,541.96 613.25,546.80" fill="#8dff00"/>
<polygon points="613.25,546.80 618.72,541.96 625.64,544.52 620.18,549.42" fill="#99ff00"/>
<polygon points="620.18,549.42 625.64,544.52 632.61,547.10 627.15,552.07" fill="#a6ff00"/>
<polygon points="502.09,498.72 507.64,494.95 513.75,497.16 508.20,500.99" fill="#00ff4c"/>
<polygon points="508.20,500.99 513.75,497.16 519.90,499.39 514.35,503.27" fill="#00ff3d"/>
<polygon points="514.35,503.27 519.90,499.39 526.09,501.63 520.55,505.57" fill="#00ff2e"/>
<polygon points="520.55,505.57 526.09,501.63 532.32,503.89 526.79,507.88" fill="#00ff1f"/>
<polygon points="526.79,507.88 532.32,503.89 538.59,506.16 533.06,510.20" fill="#00ff10"/>
<polygon points="533.06,510.20 538.59,506.16 544.91,508.45 539.38,512.55" fill="#00ff01"/>
<polygon points="539.38,512.55 544.91,508.45 551.26,510.75 545.75,514.91" fill="#0cff00"/>
<polygon points="545.75,514.91 551.26,510.75 557.66,513.07 552.16,517.28" fill="#18ff00"/>
<polygon points="552.16,517.28 557.66,513.07 564.11,515.40 558.61,519.67" fill="#25ff00"/>
<polygon points="558.61,519.67 564.11,515.40 570.60,517.75 565.10,522.08" fill="#31ff00"/>
<polygon points="565.10,522.08 570.60,517.75 577.13,520.12 571.64,524.51" fill="#3dff00"/>
<polygon points="571.64,524.51 577.13,520.12 583.71,522.50 578.23,526.95" fill="#4aff00"/>
<polygon points="578.23,526.95 583.71,522.50 590.33,524.90 584.86,529.40" fill="#56ff00"/>
<polygon points="584.86,529.40 590.33,524.90 597.00,527.32 591.54,531.88" fill="#62ff00"/>
<polygon points="591.54,531.88 597.00,527.32 603.72,529.75 598.26,534.37" fill="#6fff00"/>
<polygon points="598.26,534.37 603.72,529.75 610.49,532.20 605.04,536.88" fill="#7bff00"/>
<polygon points="605.04,536.88 610.49,532.20 617.30,534.67 611.86,539.41" fill="#88ff00"/>
<polygon points="611.86,539.41 617.30,534.67 624.16,537.15 618.72,541.96" fill="#94ff00"/>
<polygon points="618.72,541.96 624.16,537.15 631.06,539.65 625.64,544.52" fill="#a0ff00"/>
<polygon points="625.64,544.52 631.06,539.65 638.02,542.17 632.61,547.10" fill="#adff00"/>
<polygon points="507.64,494.95 513.16,491.20 519.26,493.36 513.75,497.16" fill="#00ff4a"/>
<polygon points="513.75,497.16 519.26,493.36 525.41,495.53 519.90,499.39" fill="#00ff3a"/>
<polygon points="519.90,499.39 525.41,495.53 531.59,497.72 526.09,501.63" fill="#00ff2b"/>
<polygon points="526.09,501.63 531.59,497.72 537.81,499.92 532.32,503.89" fill="#00ff1c"/>
<polygon points="532.32,503.89 537.81,499.92 544.08,502.14 538.59,506.16" fill="#00ff0c"/>
<polygon points="538.59,506.16 544.08,502.14 550.39,504.37 544.91,508.45" fill="#03ff00"/>
<polygon points="544.91,508.45 550.39,504.37 556.74,506.62 551.26,510.75" fill="#0fff00"/>
<polygon points="551.26,510.75 556.74,506.62 563.14,508.88 557.66,513.07" fill="#1cff00"/>
<polygon points="557.66,513.07 563.14,508.88 569.57,511.16 564.11,515.40" fill="#29ff00"/>
<polygon points="564.11,515.40 569.57,511.16 576.06,513.45 570.60,517.75" fill="#35ff00"/>
<polygon points="570.60,517.75 576.06,513.45 582.58,515.76 577.13,520.12" fill="#42ff00"/>
<polygon points="577.13,520.12 582.58,515.76 589.15,518.09 583.71,522.50" fill="#4fff00"/>
<polygon points="583.71,522.50 589.15,518.09 595.77,520.43 590.33,524.90" fill="#5bff00"/>
<polygon points="590.33,524.90 595.77,520.43 602.43,522.78 597.00,527.32" fill="#68ff00"/>
<polygon points="597.00,527.32 602.43,522.78 609.14,525.16 603.72,529.75" fill="#75ff00"/>
<polygon points="603.72,529.75 609.14,525.16 615.90,527.55 610.49,532.20" fill="#81ff00"/>
<polygon points="610.49,532.20 615.90,527.55 622.70,529.96 617.30,534.67" fill="#8eff00"/>
<polygon points="617.30,534.67 622.70,529.96 629.55,532.38 624.16,537.15" fill="#9bff00"/>
<polygon points="624.16,537.15 629.55,532.38 636.45,534.82 631.06,539.65" fill="#a7ff00"/>
<polygon points="631.06,539.65 636.45,534.82 643.40,537.28 638.02,542.17" fill="#b4ff00"/>
<polygon points="513.16,491.20 518.64,487.48 524.74,489.58 519.26,493.36" fill="#00ff48"/>
<polygon points="519.26,493.36 524.74,489.58 530.88,491.70 525.41,495.53" fill="#00ff38"/>
<polygon points="525.41,495.53 530.88,491.70 537.05,493.84 531.59,497.72" fill="#00ff28"/>
<polygon points="531.59,497.72 537.05,493.84 543.27,495.98 537.81,499.92" fill="#00ff18"/>
<polygon points="537.81,499.92 543.27,495.98 549.53,498.15 544.08,502.14" fill="#00ff09"/>
<polygon points="544.08,502.14 549.53,498.15 555.84,500.32 550.39,504.37" fill="#06ff00"/>
<polygon points="550.39,504.37 555.84,500.32 562.18,502.52 556.74,506.62" fill="#13ff00"/>
<polygon points="556.74,506.62 562.18,502.52 568.57,504.72 563.14,508.88" fill="#20ff00"/>
<polygon points="563.14,508.88 568.57,504.72 575.00,506.94 569.57,511.16" fill="#2dff00"/>
<polygon points="569.57,511.16 575.00,506.94 581.48,509.18 576.06,513.45" fill="#3aff00"/>
<polygon points="576.06,513.45 581.48,509.18 587.99,511.43 582.58,515.76" fill="#47ff00"/>
<polygon points="582.58,515.76 587.99,511.43 594.56,513.70 589.15,518.09" fill="#54ff00"/>
<polygon points="589.15,518.09 594.56,513.70 601.17,515.98 595.77,520.43" fill="#60ff00"/>
<polygon points="595.77,520.43 601.17,515.98 607.82,518.28 602.43,522.78" fill="#6dff00"/>
<polygon points="602.43,522.78 607.82,518.28 614.52,520.60 609.14,525.16" fill="#7aff00"/>
<polygon points="609.14,525.16 614.52,520.60 621.27,522.93 615.90,527.55" fill="#87ff00"/>
<polygon points="615.90,527.55 621.27,522.93 628.06,525.28 622.70,529.96" fill="#94ff00"/>
<polygon points="622.70,529.96 628.06,525.28 634.91,527.64 629.55,532.38" fill="#a1ff00"/>
<polygon points="629.55,532.38 634.91,527.64 641.80,530.02 636.45,534.82" fill="#aeff00"/>
<polygon points="636.45,534.82 641.80,530.02 648.74,532.42 643.40,537.28" fill="#bbff00"/>
<polygon points="518.64,487.48 524.09,483.78 530.18,485.83 524.74,489.58" fill="#00ff46"/>
<polygon points="524.74,489.58 530.18,485.83 536.31,487.90 530.88,491.70" fill="#00ff36"/>
<polygon points="530.88,491.70 536.31,487.90 542.48,489.98 537.05,493.84" fill="#00ff25"/>
<polygon points="537.05,493.84 542.48,489.98 548.70,492.07 543.27,495.98" fill="#00ff15"/>
<polygon points="543.27,495.98 548.70,492.07 554.95,494.18 549.53,498.15" fill="#00ff05"/>
<polygon points="549.53,498.15 554.95,494.18 561.25,496.30 555.84,500.32" fill="#09ff00"/>
<polygon points="555.84,500.32 561.25,496.30 567.59,498.44 562.18,502.52" fill="#16ff00"/>
<polygon points="562.18,502.52 567.59,498.44 573.97,500.59 568.57,504.72" fill="#23ff00"/>
<polygon points="568.57,504.72 573.97,500.59 580.39,502.76 575.00,506.94" fill="#31ff00"/>
<polygon points="575.00,506.94 580.39,502.76 586.86,504.94 581.48,509.18" fill="#3eff00"/>
<polygon points="581.48,509.18 586.86,504.94 593.37,507.14 587.99,511.43" fill="#4bff00"/>
<polygon points="587.99,511.43 593.37,507.14 599.93,509.35 594.56,513.70" fill="#58ff00"/>
<polygon points="594.56,513.70 599.93,509.35 606.53,511.57 601.17,515.98" fill="#66ff00"/>
<polygon points="601.17,515.98 606.53,511.57 613.18,513.81 607.82,518.28" fill="#73ff00"/>
<polygon points="607.82,518.28 613.18,513.81 619.87,516.07 614.52,520.60" fill="#80ff00"/>
<polygon points="614.52,520.60 619.87,516.07 626.61,518.34 621.27,522.93" fill="#8dff00"/>
<polygon points="621.27,522.93 626.61,518.34 633.39,520.63 628.06,525.28" fill="#9bff00"/>
<polygon points="628.06,525.28 633.39,520.63 640.23,522.94 634.91,527.64" fill="#a8ff00"/>
<polygon points="634.91,527.64 640.23,522.94 647.11,525.26 641.80,530.02" fill="#b5ff00"/>
<polygon points="641.80,530.02 647.11,525.26 654.04,527.59 648.74,532.42" fill="#c2ff00"/>
<polygon points="524.09,483.78 529.50,480.10 535.59,482.10 530.18,485.83" fill="#00ff44"/>
<polygon points="530.18,485.83 535.59,482.10 541.71,484.12 536.31,487.90" fill="#00ff33"/>
<polygon points="536.31,487.90 541.71,484.12 547.88,486.15 542.48,489.98" fill="#00ff23"/>
<polygon points="542.48,489.98 547.88,486.15 554.08,488.19 548.70,492.07" fill="#00ff12"/>
<polygon points="548.70,492.07 554.08,488.19 560.33,490.24 554.95,494.18" fill="#00ff02"/>
<polygon points="554.95,494.18 560.33,490.24 566.62,492.31 561.25,496.30" fill="#0cff00"/>
<polygon points="561.25,496.30 566.62,492.31 572.95,494.39 567.59,498.44" fill="#1aff00"/>
<polygon points="567.59,498.44 572.95,494.39 579.33,496.49 573.97,500.59" fill="#27ff00"/>
<polygon points="573.97,500.59 579.33,496.49 585.74,498.60 580.39,502.76" fill="#35ff00"/>
<polygon points="580.39,502.76 585.74,498.60 592.21,500.73 586.86,504.94" fill="#42ff00"/>
<polygon points="586.86,504.94 592.21,500.73 598.71,502.87 593.37,507.14" fill="#50ff00"/>
<polygon points="593.37,507.14 598.71,502.87 605.26,505.02 599.93,509.35" fill="#5dff00"/>
<polygon points="599.93,509.35 605.26,505.02 611.85,507.19 606.53,511.57" fill="#6bff00"/>
<polygon points="606.53,511.57 611.85,507.19 618.49,509.38 613.18,513.81" fill="#78ff00"/>
<polygon points="613.18,513.81 618.49,509.38 625.18,511.57 619.87,516.07" fill="#86ff00"/>
<polygon points="619.87,516.07 625.18,511.57 631.91,513.79 626.61,518.34" fill="#93ff00"/>
<polygon points="626.61,518.34 631.91,513.79 638.68,516.02 633.39,520.63" fill="#a1ff00"/>
<polygon points="633.39,520.63 638.68,516.02 645.51,518.26 640.23,522.94" fill="#afff00"/>
<polygon points="640.23,522.94 645.51,518.26 652.38,520.52 647.11,525.26" fill="#bcff00"/>
<polygon points="647.11,525.26 652.38,520.52 659.30,522.80 654.04,527.59" fill="#caff00"/>
</g>
<text x="392.90" y="383.40" font-size="7.5" text-anchor="start" fill="#111" font-weight="bold" textLength="69.60" lengthAdjust="spacingAndGlyphs" stroke="#111" stroke-width="0.28" >NIR Hyperthermia (˚C)</text>
<text x="395.50" y="395.00" font-size="7.2" text-anchor="start" fill="#3535ff" textLength="12.33" lengthAdjust="spacingAndGlyphs" stroke="#3535ff" stroke-width="0.18" >47.6</text>
<text x="440.10" y="395.00" font-size="7.2" text-anchor="start" fill="#ff3535" textLength="12.05" lengthAdjust="spacingAndGlyphs" stroke="#ff3535" stroke-width="0.18" >57.1</text>
<linearGradient id="gradd" x1="0" x2="1" y1="0" y2="0"><stop offset="0" stop-color="#0000ff"/><stop offset="0.5" stop-color="#00ee00"/><stop offset="1" stop-color="#ff0000"/></linearGradient>
<rect x="412.30" y="388.60" width="23.4" height="6.2" fill="url(#gradd)" stroke="#222" stroke-width="0.7"/>
<text x="392.90" y="423.50" font-size="7.2" text-anchor="start" fill="#202020" textLength="48.59" lengthAdjust="spacingAndGlyphs" stroke="#202020" stroke-width="0.18" >X1 = A: Span 60</text>
<text x="392.90" y="432.00" font-size="7.2" text-anchor="start" fill="#202020" textLength="61.23" lengthAdjust="spacingAndGlyphs" stroke="#202020" stroke-width="0.18" >X2 = C: Egg Lecithin</text>
<text x="392.90" y="450.20" font-size="7.5" text-anchor="start" fill="#111" font-weight="bold" textLength="41.00" lengthAdjust="spacingAndGlyphs" stroke="#111" stroke-width="0.28" >Coded Factor</text>
<text x="392.90" y="458.40" font-size="7.2" text-anchor="start" fill="#202020" textLength="65.02" lengthAdjust="spacingAndGlyphs" stroke="#202020" stroke-width="0.18" >B: Cholesterol = 0.000</text>
<text x="647.50" y="388.70" font-size="19.5" text-anchor="middle" fill="#111" font-family="Liberation Serif" textLength="20.69" lengthAdjust="spacingAndGlyphs" >(d)</text>
<text x="623.20" y="682.60" font-size="8.8" text-anchor="start" fill="#222" textLength="39.84" lengthAdjust="spacingAndGlyphs" stroke="#222" stroke-width="0.18" >A: Span 60</text>
<text x="416.20" y="693.10" font-size="8.8" text-anchor="start" fill="#222" textLength="54.61" lengthAdjust="spacingAndGlyphs" stroke="#222" stroke-width="0.18" >C: Egg Lecithin</text>
<text x="373.30" y="552.70" font-size="8.2" text-anchor="middle" fill="#1c1c1c" textLength="82.90" lengthAdjust="spacingAndGlyphs" transform="rotate(-90 373.30 552.70)" stroke="#1c1c1c" stroke-width="0.18" >NIR Hyperthermia (˚C)</text>
</g>
</svg>
</body></html>
